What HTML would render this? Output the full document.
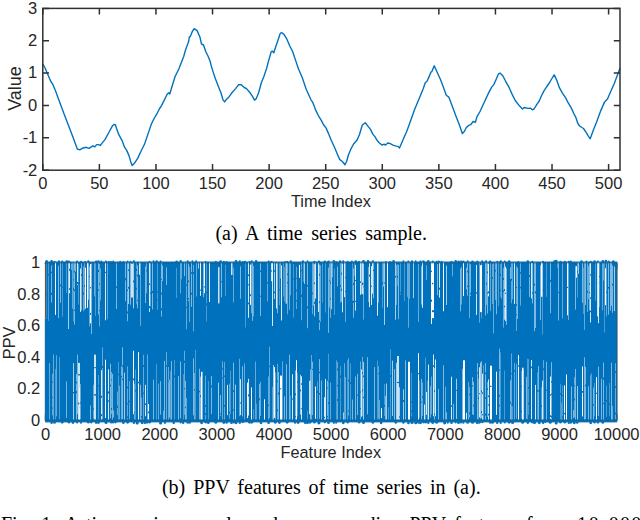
<!DOCTYPE html>
<html><head><meta charset="utf-8"><style>
html,body{margin:0;padding:0;background:#fff;width:640px;height:520px;overflow:hidden}
svg{position:absolute;left:0;top:0}
text{-webkit-font-smoothing:antialiased}
.tk{font-family:"Liberation Sans",sans-serif;font-size:16.5px;fill:#262626}
.lb{font-family:"Liberation Sans",sans-serif;font-size:16.3px;fill:#262626}
.cap{font-family:"Liberation Serif",serif;font-size:20px;fill:#000;word-spacing:3.6px}
</style></head><body>
<svg width="640" height="520" viewBox="0 0 640 520">
<path d="M42.9,64.2 L44.8,67.5 L47.7,74.2 L50.6,81.0 L52.5,83.8 L55.4,90.6 L58.6,99.2 L63.6,112.7 L68.8,126.2 L73.2,137.7 L77.3,149.0 L79.8,149.8 L82.3,148.3 L86.2,147.3 L89.0,148.3 L92.9,145.8 L94.8,146.9 L96.7,144.6 L98.5,144.6 L100.2,145.5 L101.9,143.4 L103.7,141.1 L105.4,138.8 L108.8,132.5 L112.3,126.1 L114.0,124.4 L115.5,125.0 L116.9,129.6 L118.6,134.2 L122.1,140.6 L124.4,146.9 L126.7,150.4 L129.0,155.6 L130.8,161.9 L132.1,165.6 L134.2,163.6 L137.7,158.4 L141.1,151.0 L144.6,144.0 L148.1,133.6 L151.5,123.8 L153.8,119.0 L156.7,114.2 L159.6,108.5 L161.5,105.6 L167.3,94.0 L168.8,92.7 L169.8,94.0 L172.1,86.3 L175.0,76.7 L178.8,69.0 L183.7,56.5 L185.6,49.8 L188.5,42.1 L189.4,36.9 L190.4,36.3 L192.3,31.5 L194.2,28.7 L197.1,30.6 L200.0,37.3 L201.5,44.0 L203.5,45.0 L205.8,51.7 L207.9,55.8 L210.2,61.5 L211.3,66.1 L213.1,71.9 L215.4,78.8 L218.3,86.3 L221.1,93.3 L222.9,99.6 L224.6,101.9 L226.3,99.6 L229.2,96.7 L231.5,93.3 L235.6,88.6 L238.4,84.8 L241.3,84.8 L244.2,87.5 L246.5,88.6 L250.0,92.7 L252.3,96.1 L254.6,100.2 L256.3,98.5 L258.6,92.7 L261.5,82.3 L263.8,76.7 L266.7,68.1 L268.7,60.4 L271.2,51.7 L272.5,51.2 L273.8,52.7 L276.3,45.0 L278.3,39.2 L280.2,33.5 L281.5,32.5 L284.0,34.4 L286.9,39.2 L289.8,46.0 L292.7,51.7 L295.6,60.4 L298.5,69.0 L302.3,77.7 L306.2,89.2 L311.0,99.8 L312.9,102.7 L315.8,110.4 L318.5,115.8 L321.3,120.4 L323.7,125.0 L326.0,127.9 L328.3,133.1 L331.1,140.0 L334.6,147.5 L337.5,154.4 L339.8,159.6 L342.1,161.3 L345.0,164.8 L346.7,161.3 L348.4,155.0 L350.8,149.2 L353.6,144.0 L357.1,140.0 L359.4,134.8 L362.3,125.0 L365.2,122.7 L367.5,125.6 L370.5,129.4 L372.8,134.1 L374.7,136.4 L377.0,140.2 L379.4,143.0 L382.2,145.1 L384.1,144.2 L385.5,145.1 L387.8,143.0 L389.7,143.4 L393.0,145.1 L396.2,146.1 L398.1,146.4 L399.5,148.1 L400.9,144.8 L403.7,138.3 L406.6,131.7 L409.8,123.1 L414.6,109.6 L419.4,98.1 L423.3,88.5 L425.2,82.7 L427.1,81.2 L429.0,76.9 L431.0,72.1 L431.9,71.5 L434.2,65.8 L436.7,71.2 L440.6,79.8 L443.5,87.5 L446.3,95.2 L448.8,97.1 L452.1,105.8 L456.0,116.3 L459.8,126.0 L462.3,133.5 L464.3,131.5 L466.2,127.7 L468.5,125.4 L470.8,124.6 L473.1,121.5 L475.4,122.3 L476.9,116.9 L480.0,111.5 L484.6,101.5 L488.5,93.1 L491.5,87.4 L493.8,84.6 L496.2,79.2 L498.5,73.8 L500.0,73.1 L503.1,76.2 L505.4,80.8 L509.2,87.7 L512.3,94.6 L515.4,100.8 L519.6,106.1 L522.5,109.0 L524.2,107.5 L527.7,108.4 L530.6,108.2 L532.3,109.8 L534.0,109.0 L536.9,104.4 L539.2,101.0 L541.5,95.8 L543.8,91.1 L546.1,87.7 L549.6,82.5 L551.9,78.5 L554.2,74.8 L556.5,79.6 L559.4,87.7 L562.3,92.9 L565.8,98.1 L568.1,102.7 L571.5,108.4 L573.8,113.5 L575.8,117.3 L577.7,123.1 L579.6,126.0 L583.5,128.5 L586.3,132.7 L588.3,136.2 L590.2,138.8 L593.1,130.8 L596.9,121.2 L600.8,110.6 L604.6,101.9 L607.5,99.0 L610.4,92.3 L614.2,83.7 L619.6,69.2 L620.2,68.0" fill="none" stroke="#0072bd" stroke-width="1.4" stroke-linejoin="round"/>
<rect x="42.8" y="8.4" width="577.2" height="161.79999999999998" fill="none" stroke="#303030" stroke-width="1.5"/>
<text x="42.80" y="188.8" text-anchor="middle" class="tk">0</text>
<text x="99.38" y="188.8" text-anchor="middle" class="tk">50</text>
<text x="155.96" y="188.8" text-anchor="middle" class="tk">100</text>
<text x="212.54" y="188.8" text-anchor="middle" class="tk">150</text>
<text x="269.12" y="188.8" text-anchor="middle" class="tk">200</text>
<text x="325.70" y="188.8" text-anchor="middle" class="tk">250</text>
<text x="382.28" y="188.8" text-anchor="middle" class="tk">300</text>
<text x="438.86" y="188.8" text-anchor="middle" class="tk">350</text>
<text x="495.44" y="188.8" text-anchor="middle" class="tk">400</text>
<text x="552.02" y="188.8" text-anchor="middle" class="tk">450</text>
<text x="608.60" y="188.8" text-anchor="middle" class="tk">500</text>
<text x="37.3" y="175.50" text-anchor="end" class="tk">-2</text>
<text x="37.3" y="143.14" text-anchor="end" class="tk">-1</text>
<text x="37.3" y="110.78" text-anchor="end" class="tk">0</text>
<text x="37.3" y="78.42" text-anchor="end" class="tk">1</text>
<text x="37.3" y="46.06" text-anchor="end" class="tk">2</text>
<text x="37.3" y="13.70" text-anchor="end" class="tk">3</text>
<path d="M42.80,170.2 V164.0 M42.80,8.4 V14.600000000000001 M99.38,170.2 V164.0 M99.38,8.4 V14.600000000000001 M155.96,170.2 V164.0 M155.96,8.4 V14.600000000000001 M212.54,170.2 V164.0 M212.54,8.4 V14.600000000000001 M269.12,170.2 V164.0 M269.12,8.4 V14.600000000000001 M325.70,170.2 V164.0 M325.70,8.4 V14.600000000000001 M382.28,170.2 V164.0 M382.28,8.4 V14.600000000000001 M438.86,170.2 V164.0 M438.86,8.4 V14.600000000000001 M495.44,170.2 V164.0 M495.44,8.4 V14.600000000000001 M552.02,170.2 V164.0 M552.02,8.4 V14.600000000000001 M608.60,170.2 V164.0 M608.60,8.4 V14.600000000000001 M42.8,170.20 H49.0 M620.0,170.20 H613.8 M42.8,137.84 H49.0 M620.0,137.84 H613.8 M42.8,105.48 H49.0 M620.0,105.48 H613.8 M42.8,73.12 H49.0 M620.0,73.12 H613.8 M42.8,40.76 H49.0 M620.0,40.76 H613.8 M42.8,8.40 H49.0 M620.0,8.40 H613.8" stroke="#303030" stroke-width="1.5" fill="none"/>
<text x="330.9" y="206.7" text-anchor="middle" class="lb">Time Index</text>
<text transform="translate(21.3,88.5) rotate(-90)" text-anchor="middle" class="lb" style="font-size:18px">Value</text>
<rect x="45.6" y="263.1" width="571.0" height="157.09999999999997" fill="none" stroke="#303030" stroke-width="1.5"/>
<text x="45.60" y="439.6" text-anchor="middle" class="tk">0</text>
<text x="102.70" y="439.6" text-anchor="middle" class="tk">1000</text>
<text x="159.80" y="439.6" text-anchor="middle" class="tk">2000</text>
<text x="216.90" y="439.6" text-anchor="middle" class="tk">3000</text>
<text x="274.00" y="439.6" text-anchor="middle" class="tk">4000</text>
<text x="331.10" y="439.6" text-anchor="middle" class="tk">5000</text>
<text x="388.20" y="439.6" text-anchor="middle" class="tk">6000</text>
<text x="445.30" y="439.6" text-anchor="middle" class="tk">7000</text>
<text x="502.40" y="439.6" text-anchor="middle" class="tk">8000</text>
<text x="559.50" y="439.6" text-anchor="middle" class="tk">9000</text>
<text x="616.60" y="439.6" text-anchor="middle" class="tk">10000</text>
<text x="40.3" y="425.50" text-anchor="end" class="tk">0</text>
<text x="40.3" y="394.08" text-anchor="end" class="tk">0.2</text>
<text x="40.3" y="362.66" text-anchor="end" class="tk">0.4</text>
<text x="40.3" y="331.24" text-anchor="end" class="tk">0.6</text>
<text x="40.3" y="299.82" text-anchor="end" class="tk">0.8</text>
<text x="40.3" y="268.40" text-anchor="end" class="tk">1</text>
<path d="M45.60,420.2 V414.0 M45.60,263.1 V269.3 M102.70,420.2 V414.0 M102.70,263.1 V269.3 M159.80,420.2 V414.0 M159.80,263.1 V269.3 M216.90,420.2 V414.0 M216.90,263.1 V269.3 M274.00,420.2 V414.0 M274.00,263.1 V269.3 M331.10,420.2 V414.0 M331.10,263.1 V269.3 M388.20,420.2 V414.0 M388.20,263.1 V269.3 M445.30,420.2 V414.0 M445.30,263.1 V269.3 M502.40,420.2 V414.0 M502.40,263.1 V269.3 M559.50,420.2 V414.0 M559.50,263.1 V269.3 M616.60,420.2 V414.0 M616.60,263.1 V269.3 M45.6,420.20 H51.800000000000004 M616.6,420.20 H610.4 M45.6,388.78 H51.800000000000004 M616.6,388.78 H610.4 M45.6,357.36 H51.800000000000004 M616.6,357.36 H610.4 M45.6,325.94 H51.800000000000004 M616.6,325.94 H610.4 M45.6,294.52 H51.800000000000004 M616.6,294.52 H610.4 M45.6,263.10 H51.800000000000004 M616.6,263.10 H610.4" stroke="#303030" stroke-width="1.5" fill="none"/>
<rect x="45.0" y="261.5" width="572.2" height="160.89999999999998" fill="#0072bd"/>
<g fill="#fff"><rect x="48.0" y="262.7" width="0.5" height="11.2" fill-opacity="0.6"/><rect x="48.0" y="275.3" width="0.5" height="45.6" fill-opacity="0.6"/><rect x="49.5" y="363.1" width="0.5" height="56.5" fill-opacity="0.8"/><rect x="51.0" y="265.6" width="0.5" height="6.1" fill-opacity="1"/><rect x="51.0" y="273.2" width="0.5" height="19.6" fill-opacity="1"/><rect x="51.0" y="294.9" width="0.5" height="7.6" fill-opacity="1"/><rect x="52.0" y="373.8" width="1.0" height="7.6" fill-opacity="0.4"/><rect x="52.0" y="382.7" width="1.0" height="14.2" fill-opacity="0.4"/><rect x="52.0" y="397.9" width="1.0" height="9.6" fill-opacity="0.4"/><rect x="52.0" y="408.7" width="1.0" height="6.6" fill-opacity="0.4"/><rect x="53.0" y="354.4" width="0.5" height="65.2" fill-opacity="0.8"/><rect x="55.0" y="262.7" width="1.0" height="52.2" fill-opacity="1"/><rect x="55.5" y="368.9" width="0.5" height="50.7" fill-opacity="0.6"/><rect x="56.5" y="355.3" width="0.5" height="61.0" fill-opacity="0.8"/><rect x="58.5" y="265.8" width="0.5" height="52.2" fill-opacity="1"/><rect x="59.5" y="357.0" width="0.5" height="62.6" fill-opacity="0.6"/><rect x="60.0" y="262.7" width="0.5" height="21.7" fill-opacity="1"/><rect x="60.0" y="286.3" width="0.5" height="16.5" fill-opacity="1"/><rect x="62.5" y="262.7" width="0.5" height="23.8" fill-opacity="0.6"/><rect x="62.5" y="287.6" width="0.5" height="29.1" fill-opacity="0.6"/><rect x="66.0" y="262.7" width="0.5" height="30.4" fill-opacity="0.6"/><rect x="66.0" y="381.5" width="0.5" height="36.3" fill-opacity="1"/><rect x="68.0" y="262.7" width="1.0" height="66.3" fill-opacity="0.65"/><rect x="69.0" y="262.7" width="1.0" height="6.1" fill-opacity="0.85"/><rect x="69.0" y="270.8" width="1.0" height="17.4" fill-opacity="0.85"/><rect x="69.0" y="290.0" width="1.0" height="3.3" fill-opacity="0.85"/><rect x="71.0" y="263.3" width="1.0" height="6.7" fill-opacity="0.4"/><rect x="71.0" y="272.0" width="1.0" height="0.1" fill-opacity="0.4"/><rect x="72.0" y="262.7" width="0.5" height="46.0" fill-opacity="0.8"/><rect x="73.5" y="262.7" width="0.5" height="16.6" fill-opacity="0.6"/><rect x="73.5" y="280.4" width="0.5" height="7.8" fill-opacity="0.6"/><rect x="73.5" y="290.0" width="0.5" height="31.2" fill-opacity="0.6"/><rect x="73.0" y="363.1" width="1.0" height="28.9" fill-opacity="0.65"/><rect x="73.0" y="393.5" width="1.0" height="26.1" fill-opacity="0.65"/><rect x="74.0" y="262.7" width="1.0" height="8.2" fill-opacity="0.5"/><rect x="74.0" y="272.4" width="1.0" height="17.0" fill-opacity="0.5"/><rect x="74.0" y="291.2" width="1.0" height="18.4" fill-opacity="0.5"/><rect x="74.0" y="311.0" width="1.0" height="13.6" fill-opacity="0.5"/><rect x="75.0" y="262.7" width="0.5" height="9.1" fill-opacity="1"/><rect x="76.5" y="374.2" width="0.5" height="7.4" fill-opacity="1"/><rect x="76.5" y="383.4" width="0.5" height="7.7" fill-opacity="1"/><rect x="76.5" y="393.2" width="0.5" height="26.4" fill-opacity="1"/><rect x="77.0" y="262.7" width="1.0" height="19.3" fill-opacity="0.85"/><rect x="77.0" y="284.1" width="1.0" height="0.9" fill-opacity="0.85"/><rect x="77.5" y="354.6" width="0.5" height="59.5" fill-opacity="1"/><rect x="78.0" y="264.2" width="0.5" height="18.1" fill-opacity="0.6"/><rect x="78.0" y="284.5" width="0.5" height="20.1" fill-opacity="0.6"/><rect x="78.0" y="362.9" width="2.0" height="11.2" fill-opacity="0.8"/><rect x="78.0" y="375.4" width="2.0" height="27.2" fill-opacity="0.8"/><rect x="78.0" y="404.4" width="2.0" height="15.2" fill-opacity="0.8"/><rect x="79.0" y="387.9" width="1.0" height="18.1" fill-opacity="0.65"/><rect x="79.0" y="408.2" width="1.0" height="11.4" fill-opacity="0.65"/><rect x="80.0" y="268.5" width="1.0" height="43.4" fill-opacity="0.85"/><rect x="80.0" y="384.1" width="0.5" height="18.1" fill-opacity="0.8"/><rect x="80.0" y="403.4" width="0.5" height="16.2" fill-opacity="0.8"/><rect x="81.5" y="262.7" width="0.5" height="11.6" fill-opacity="1"/><rect x="81.5" y="276.0" width="0.5" height="34.3" fill-opacity="1"/><rect x="83.0" y="266.4" width="0.5" height="26.0" fill-opacity="0.8"/><rect x="83.0" y="294.5" width="0.5" height="16.7" fill-opacity="0.8"/><rect x="84.0" y="262.7" width="1.0" height="22.5" fill-opacity="0.4"/><rect x="84.0" y="287.1" width="1.0" height="22.6" fill-opacity="0.4"/><rect x="85.0" y="267.7" width="1.0" height="40.8" fill-opacity="1"/><rect x="87.0" y="262.7" width="1.0" height="45.1" fill-opacity="1"/><rect x="88.0" y="262.7" width="0.5" height="37.0" fill-opacity="1"/><rect x="89.0" y="266.5" width="0.5" height="9.5" fill-opacity="0.8"/><rect x="89.0" y="277.3" width="0.5" height="49.0" fill-opacity="0.8"/><rect x="90.0" y="264.0" width="1.0" height="23.0" fill-opacity="1"/><rect x="90.0" y="288.4" width="1.0" height="24.4" fill-opacity="1"/><rect x="90.0" y="315.0" width="1.0" height="8.2" fill-opacity="1"/><rect x="90.0" y="405.4" width="1.0" height="14.2" fill-opacity="0.5"/><rect x="91.5" y="263.2" width="0.5" height="70.8" fill-opacity="1"/><rect x="93.5" y="384.8" width="0.5" height="23.5" fill-opacity="0.8"/><rect x="93.5" y="409.8" width="0.5" height="8.9" fill-opacity="0.8"/><rect x="94.0" y="262.7" width="0.5" height="33.6" fill-opacity="0.8"/><rect x="94.0" y="354.6" width="2.0" height="12.6" fill-opacity="0.8"/><rect x="94.0" y="368.2" width="2.0" height="26.0" fill-opacity="0.8"/><rect x="94.0" y="395.6" width="2.0" height="24.0" fill-opacity="0.8"/><rect x="95.5" y="262.7" width="0.5" height="53.2" fill-opacity="0.6"/><rect x="98.0" y="262.7" width="1.0" height="7.2" fill-opacity="0.5"/><rect x="98.0" y="272.0" width="1.0" height="17.3" fill-opacity="0.5"/><rect x="98.0" y="290.7" width="1.0" height="23.7" fill-opacity="0.5"/><rect x="98.0" y="375.1" width="0.5" height="9.9" fill-opacity="0.6"/><rect x="98.0" y="386.2" width="0.5" height="33.4" fill-opacity="0.6"/><rect x="99.0" y="263.9" width="0.5" height="19.3" fill-opacity="0.8"/><rect x="99.0" y="284.6" width="0.5" height="25.4" fill-opacity="0.8"/><rect x="99.0" y="311.2" width="0.5" height="15.3" fill-opacity="0.8"/><rect x="100.0" y="268.5" width="0.5" height="31.9" fill-opacity="0.8"/><rect x="101.0" y="370.2" width="1.0" height="25.5" fill-opacity="0.85"/><rect x="101.0" y="397.9" width="1.0" height="16.2" fill-opacity="0.85"/><rect x="101.0" y="416.1" width="1.0" height="3.5" fill-opacity="0.85"/><rect x="102.0" y="347.4" width="1.0" height="18.5" fill-opacity="0.4"/><rect x="102.0" y="367.8" width="1.0" height="51.2" fill-opacity="0.4"/><rect x="105.0" y="262.7" width="1.0" height="9.1" fill-opacity="0.85"/><rect x="105.0" y="273.1" width="1.0" height="47.2" fill-opacity="0.85"/><rect x="105.0" y="359.7" width="1.0" height="58.3" fill-opacity="1"/><rect x="107.0" y="262.7" width="0.5" height="56.5" fill-opacity="0.8"/><rect x="108.0" y="369.4" width="1.0" height="22.0" fill-opacity="0.85"/><rect x="108.0" y="393.5" width="1.0" height="6.8" fill-opacity="0.85"/><rect x="108.0" y="401.7" width="1.0" height="17.9" fill-opacity="0.85"/><rect x="110.5" y="363.7" width="0.5" height="21.0" fill-opacity="1"/><rect x="110.5" y="386.4" width="0.5" height="31.9" fill-opacity="1"/><rect x="111.0" y="372.0" width="1.0" height="7.2" fill-opacity="0.4"/><rect x="111.0" y="380.3" width="1.0" height="27.6" fill-opacity="0.4"/><rect x="111.0" y="409.9" width="1.0" height="3.9" fill-opacity="0.4"/><rect x="112.5" y="373.9" width="0.5" height="45.7" fill-opacity="1"/><rect x="113.0" y="410.5" width="0.5" height="6.6" fill-opacity="1"/><rect x="116.0" y="262.7" width="1.0" height="23.7" fill-opacity="0.5"/><rect x="116.0" y="288.0" width="1.0" height="21.0" fill-opacity="0.5"/><rect x="117.5" y="391.7" width="0.5" height="14.0" fill-opacity="0.8"/><rect x="117.5" y="407.9" width="0.5" height="7.2" fill-opacity="0.8"/><rect x="118.0" y="362.1" width="0.5" height="11.6" fill-opacity="0.6"/><rect x="118.0" y="375.3" width="0.5" height="44.3" fill-opacity="0.6"/><rect x="119.0" y="385.6" width="0.5" height="34.0" fill-opacity="0.8"/><rect x="121.0" y="366.1" width="0.5" height="9.8" fill-opacity="0.8"/><rect x="121.0" y="377.4" width="0.5" height="42.2" fill-opacity="0.8"/><rect x="122.0" y="347.3" width="1.0" height="18.0" fill-opacity="0.5"/><rect x="122.0" y="367.1" width="1.0" height="11.6" fill-opacity="0.5"/><rect x="122.0" y="380.2" width="1.0" height="38.9" fill-opacity="0.5"/><rect x="124.0" y="372.6" width="1.0" height="47.0" fill-opacity="0.65"/><rect x="125.0" y="262.7" width="0.5" height="15.5" fill-opacity="1"/><rect x="125.0" y="280.4" width="0.5" height="20.7" fill-opacity="1"/><rect x="127.0" y="262.7" width="1.0" height="27.0" fill-opacity="0.5"/><rect x="127.0" y="291.0" width="1.0" height="20.4" fill-opacity="0.5"/><rect x="127.0" y="313.4" width="1.0" height="7.8" fill-opacity="0.5"/><rect x="127.0" y="366.3" width="1.0" height="20.3" fill-opacity="0.4"/><rect x="127.0" y="388.3" width="1.0" height="14.8" fill-opacity="0.4"/><rect x="127.0" y="404.3" width="1.0" height="12.1" fill-opacity="0.4"/><rect x="127.0" y="418.2" width="1.0" height="1.4" fill-opacity="0.4"/><rect x="128.0" y="262.7" width="1.0" height="6.8" fill-opacity="0.65"/><rect x="128.0" y="271.0" width="1.0" height="15.8" fill-opacity="0.65"/><rect x="128.0" y="288.8" width="1.0" height="15.1" fill-opacity="0.65"/><rect x="129.0" y="381.1" width="0.5" height="19.6" fill-opacity="0.8"/><rect x="129.0" y="402.1" width="0.5" height="17.5" fill-opacity="0.8"/><rect x="130.5" y="262.7" width="0.5" height="42.1" fill-opacity="1"/><rect x="131.0" y="263.6" width="2.0" height="33.9" fill-opacity="0.8"/><rect x="133.0" y="262.7" width="1.0" height="17.8" fill-opacity="0.65"/><rect x="133.0" y="282.4" width="1.0" height="25.9" fill-opacity="0.65"/><rect x="133.0" y="350.8" width="1.0" height="27.7" fill-opacity="1"/><rect x="133.0" y="380.3" width="1.0" height="33.8" fill-opacity="1"/><rect x="134.0" y="383.7" width="0.5" height="28.5" fill-opacity="0.8"/><rect x="134.0" y="413.4" width="0.5" height="6.2" fill-opacity="0.8"/><rect x="135.5" y="369.4" width="0.5" height="20.4" fill-opacity="0.6"/><rect x="135.5" y="391.5" width="0.5" height="28.1" fill-opacity="0.6"/><rect x="136.5" y="262.7" width="0.5" height="6.1" fill-opacity="0.6"/><rect x="136.5" y="271.0" width="0.5" height="16.7" fill-opacity="0.6"/><rect x="136.5" y="289.4" width="0.5" height="14.9" fill-opacity="0.6"/><rect x="137.0" y="265.4" width="0.5" height="9.1" fill-opacity="1"/><rect x="137.0" y="276.6" width="0.5" height="23.3" fill-opacity="1"/><rect x="137.0" y="301.0" width="0.5" height="7.3" fill-opacity="1"/><rect x="138.0" y="352.2" width="1.0" height="29.6" fill-opacity="1"/><rect x="138.0" y="383.3" width="1.0" height="36.3" fill-opacity="1"/><rect x="139.0" y="262.7" width="1.0" height="12.0" fill-opacity="0.85"/><rect x="140.0" y="262.7" width="1.0" height="63.2" fill-opacity="0.4"/><rect x="140.5" y="384.8" width="0.5" height="34.8" fill-opacity="1"/><rect x="141.0" y="397.4" width="1.0" height="18.5" fill-opacity="0.4"/><rect x="141.0" y="417.8" width="1.0" height="1.8" fill-opacity="0.4"/><rect x="143.0" y="354.8" width="0.5" height="10.2" fill-opacity="0.8"/><rect x="143.0" y="366.9" width="0.5" height="25.7" fill-opacity="0.8"/><rect x="143.0" y="393.9" width="0.5" height="25.7" fill-opacity="0.8"/><rect x="145.5" y="266.5" width="0.5" height="36.6" fill-opacity="1"/><rect x="145.0" y="384.8" width="1.0" height="18.6" fill-opacity="0.85"/><rect x="145.0" y="405.0" width="1.0" height="11.2" fill-opacity="0.85"/><rect x="146.0" y="262.7" width="0.5" height="7.5" fill-opacity="0.8"/><rect x="146.0" y="271.4" width="0.5" height="21.7" fill-opacity="0.8"/><rect x="147.0" y="354.5" width="1.0" height="65.1" fill-opacity="0.4"/><rect x="148.0" y="404.0" width="1.0" height="7.4" fill-opacity="1"/><rect x="148.0" y="413.3" width="1.0" height="6.3" fill-opacity="1"/><rect x="149.0" y="262.7" width="1.0" height="20.7" fill-opacity="0.85"/><rect x="149.0" y="285.0" width="1.0" height="21.0" fill-opacity="0.85"/><rect x="149.0" y="308.2" width="1.0" height="3.7" fill-opacity="0.85"/><rect x="150.5" y="262.7" width="0.5" height="29.9" fill-opacity="0.8"/><rect x="150.5" y="293.9" width="0.5" height="12.7" fill-opacity="0.8"/><rect x="152.5" y="262.7" width="0.5" height="28.3" fill-opacity="1"/><rect x="152.5" y="293.1" width="0.5" height="16.3" fill-opacity="1"/><rect x="153.5" y="379.8" width="0.5" height="39.8" fill-opacity="1"/><rect x="156.0" y="363.9" width="0.5" height="55.7" fill-opacity="0.6"/><rect x="157.0" y="262.9" width="0.5" height="28.3" fill-opacity="0.6"/><rect x="157.0" y="292.6" width="0.5" height="6.7" fill-opacity="0.6"/><rect x="157.0" y="300.3" width="0.5" height="9.5" fill-opacity="0.6"/><rect x="158.0" y="383.6" width="1.0" height="36.0" fill-opacity="0.4"/><rect x="160.0" y="381.2" width="0.5" height="33.4" fill-opacity="1"/><rect x="161.5" y="262.7" width="0.5" height="16.2" fill-opacity="1"/><rect x="161.5" y="279.9" width="0.5" height="12.8" fill-opacity="1"/><rect x="161.5" y="294.5" width="0.5" height="13.7" fill-opacity="1"/><rect x="161.5" y="310.4" width="0.5" height="6.1" fill-opacity="1"/><rect x="162.0" y="265.5" width="1.0" height="15.4" fill-opacity="0.5"/><rect x="163.0" y="410.6" width="0.5" height="9.0" fill-opacity="0.8"/><rect x="164.0" y="360.9" width="1.0" height="58.7" fill-opacity="0.5"/><rect x="166.0" y="267.4" width="0.5" height="17.7" fill-opacity="1"/><rect x="166.0" y="351.9" width="0.5" height="13.3" fill-opacity="0.8"/><rect x="166.0" y="366.7" width="0.5" height="52.9" fill-opacity="0.8"/><rect x="168.0" y="367.0" width="1.0" height="13.8" fill-opacity="0.4"/><rect x="168.0" y="382.0" width="1.0" height="37.6" fill-opacity="0.4"/><rect x="169.0" y="379.9" width="1.0" height="37.7" fill-opacity="0.5"/><rect x="170.0" y="371.1" width="0.5" height="48.5" fill-opacity="0.6"/><rect x="171.0" y="361.0" width="0.5" height="58.6" fill-opacity="1"/><rect x="174.5" y="359.8" width="0.5" height="15.6" fill-opacity="0.6"/><rect x="174.5" y="377.4" width="0.5" height="42.2" fill-opacity="0.6"/><rect x="176.5" y="267.8" width="0.5" height="30.2" fill-opacity="0.6"/><rect x="178.0" y="376.0" width="0.5" height="43.6" fill-opacity="1"/><rect x="180.0" y="262.7" width="0.5" height="30.6" fill-opacity="0.8"/><rect x="180.0" y="361.5" width="1.0" height="56.8" fill-opacity="0.5"/><rect x="181.5" y="262.7" width="0.5" height="16.5" fill-opacity="0.8"/><rect x="183.5" y="374.2" width="0.5" height="45.4" fill-opacity="0.6"/><rect x="184.5" y="262.7" width="0.5" height="13.4" fill-opacity="1"/><rect x="184.5" y="350.8" width="0.5" height="9.9" fill-opacity="0.8"/><rect x="184.5" y="362.9" width="0.5" height="25.2" fill-opacity="0.8"/><rect x="184.5" y="389.3" width="0.5" height="25.5" fill-opacity="0.8"/><rect x="185.0" y="380.8" width="1.0" height="26.0" fill-opacity="0.5"/><rect x="185.0" y="408.2" width="1.0" height="11.4" fill-opacity="0.5"/><rect x="186.5" y="262.7" width="0.5" height="21.7" fill-opacity="0.8"/><rect x="186.5" y="285.8" width="0.5" height="21.0" fill-opacity="0.8"/><rect x="186.5" y="307.9" width="0.5" height="21.4" fill-opacity="0.8"/><rect x="186.0" y="398.0" width="0.5" height="21.6" fill-opacity="0.8"/><rect x="188.0" y="263.6" width="0.5" height="16.8" fill-opacity="1"/><rect x="188.0" y="282.3" width="0.5" height="15.7" fill-opacity="1"/><rect x="188.0" y="299.6" width="0.5" height="1.4" fill-opacity="1"/><rect x="189.0" y="266.9" width="1.0" height="55.2" fill-opacity="0.4"/><rect x="191.5" y="262.7" width="0.5" height="9.5" fill-opacity="1"/><rect x="191.5" y="273.8" width="0.5" height="18.9" fill-opacity="1"/><rect x="191.5" y="294.7" width="0.5" height="12.2" fill-opacity="1"/><rect x="193.0" y="264.9" width="0.5" height="7.1" fill-opacity="0.8"/><rect x="193.0" y="273.8" width="0.5" height="57.5" fill-opacity="0.8"/><rect x="193.0" y="358.4" width="1.0" height="56.9" fill-opacity="0.5"/><rect x="194.5" y="373.0" width="0.5" height="16.1" fill-opacity="0.8"/><rect x="194.5" y="390.8" width="0.5" height="28.8" fill-opacity="0.8"/><rect x="195.0" y="349.8" width="0.5" height="69.8" fill-opacity="0.6"/><rect x="196.0" y="262.7" width="0.5" height="33.8" fill-opacity="0.8"/><rect x="198.0" y="262.7" width="1.0" height="5.9" fill-opacity="0.65"/><rect x="199.0" y="368.7" width="0.5" height="22.0" fill-opacity="1"/><rect x="199.0" y="392.3" width="0.5" height="27.3" fill-opacity="1"/><rect x="200.0" y="262.7" width="1.0" height="26.9" fill-opacity="1"/><rect x="200.0" y="290.8" width="1.0" height="4.9" fill-opacity="1"/><rect x="200.0" y="376.7" width="0.5" height="18.5" fill-opacity="1"/><rect x="200.0" y="397.2" width="0.5" height="22.4" fill-opacity="1"/><rect x="201.0" y="371.8" width="1.5" height="47.8" fill-opacity="1"/><rect x="203.0" y="262.7" width="1.0" height="34.6" fill-opacity="0.5"/><rect x="204.0" y="262.7" width="1.0" height="23.6" fill-opacity="1"/><rect x="204.0" y="287.5" width="1.0" height="5.7" fill-opacity="1"/><rect x="205.0" y="375.8" width="1.0" height="29.1" fill-opacity="0.4"/><rect x="205.0" y="406.8" width="1.0" height="6.4" fill-opacity="0.4"/><rect x="205.0" y="414.9" width="1.0" height="4.7" fill-opacity="0.4"/><rect x="206.0" y="262.7" width="0.5" height="28.8" fill-opacity="0.6"/><rect x="206.0" y="293.3" width="0.5" height="10.0" fill-opacity="0.6"/><rect x="206.0" y="305.5" width="0.5" height="15.9" fill-opacity="0.6"/><rect x="208.5" y="381.2" width="0.5" height="38.4" fill-opacity="0.6"/><rect x="209.0" y="262.7" width="1.0" height="39.3" fill-opacity="0.85"/><rect x="211.0" y="376.0" width="0.5" height="9.4" fill-opacity="1"/><rect x="211.0" y="387.5" width="0.5" height="26.6" fill-opacity="1"/><rect x="218.0" y="267.2" width="1.5" height="36.2" fill-opacity="0.8"/><rect x="218.0" y="382.6" width="1.0" height="37.0" fill-opacity="0.65"/><rect x="220.5" y="395.0" width="0.5" height="18.4" fill-opacity="1"/><rect x="220.5" y="414.6" width="0.5" height="1.5" fill-opacity="1"/><rect x="221.0" y="262.7" width="1.0" height="18.5" fill-opacity="0.5"/><rect x="221.0" y="282.2" width="1.0" height="15.2" fill-opacity="0.5"/><rect x="222.0" y="361.2" width="0.5" height="6.9" fill-opacity="0.8"/><rect x="222.0" y="369.4" width="0.5" height="8.0" fill-opacity="0.8"/><rect x="222.0" y="378.4" width="0.5" height="41.2" fill-opacity="0.8"/><rect x="224.0" y="361.9" width="1.0" height="13.6" fill-opacity="0.4"/><rect x="224.0" y="376.9" width="1.0" height="28.1" fill-opacity="0.4"/><rect x="224.0" y="406.6" width="1.0" height="13.0" fill-opacity="0.4"/><rect x="225.0" y="264.8" width="0.5" height="31.2" fill-opacity="0.6"/><rect x="227.0" y="384.9" width="1.0" height="30.2" fill-opacity="0.85"/><rect x="229.0" y="383.7" width="0.5" height="27.9" fill-opacity="0.8"/><rect x="229.0" y="413.5" width="0.5" height="5.2" fill-opacity="0.8"/><rect x="230.0" y="370.6" width="0.5" height="43.4" fill-opacity="0.6"/><rect x="231.0" y="262.7" width="1.5" height="12.3" fill-opacity="0.8"/><rect x="233.5" y="267.7" width="0.5" height="34.7" fill-opacity="0.8"/><rect x="233.0" y="362.7" width="1.0" height="27.5" fill-opacity="0.5"/><rect x="233.0" y="391.9" width="1.0" height="17.5" fill-opacity="0.5"/><rect x="233.0" y="410.7" width="1.0" height="8.9" fill-opacity="0.5"/><rect x="235.0" y="384.7" width="1.0" height="34.9" fill-opacity="0.65"/><rect x="239.0" y="358.8" width="0.5" height="57.4" fill-opacity="0.8"/><rect x="240.5" y="266.4" width="0.5" height="32.4" fill-opacity="1"/><rect x="240.0" y="379.1" width="1.0" height="23.3" fill-opacity="0.85"/><rect x="240.0" y="403.5" width="1.0" height="11.7" fill-opacity="0.85"/><rect x="242.0" y="366.3" width="1.0" height="50.0" fill-opacity="0.5"/><rect x="244.0" y="363.4" width="0.5" height="56.2" fill-opacity="0.8"/><rect x="245.5" y="262.7" width="0.5" height="64.8" fill-opacity="0.6"/><rect x="247.0" y="382.6" width="1.0" height="35.5" fill-opacity="1"/><rect x="248.0" y="262.7" width="1.0" height="11.7" fill-opacity="0.85"/><rect x="248.0" y="276.0" width="1.0" height="8.3" fill-opacity="0.85"/><rect x="248.0" y="285.4" width="1.0" height="17.2" fill-opacity="0.85"/><rect x="248.0" y="304.3" width="1.0" height="13.5" fill-opacity="0.85"/><rect x="248.0" y="378.8" width="1.0" height="15.5" fill-opacity="0.85"/><rect x="248.0" y="396.4" width="1.0" height="19.2" fill-opacity="0.85"/><rect x="250.0" y="264.7" width="1.0" height="29.5" fill-opacity="1"/><rect x="250.0" y="296.2" width="1.0" height="8.6" fill-opacity="1"/><rect x="251.0" y="262.7" width="1.0" height="50.4" fill-opacity="0.4"/><rect x="251.0" y="387.5" width="1.0" height="32.1" fill-opacity="1"/><rect x="252.0" y="262.7" width="1.0" height="58.1" fill-opacity="0.5"/><rect x="253.0" y="266.0" width="1.0" height="50.4" fill-opacity="0.4"/><rect x="253.5" y="409.2" width="0.5" height="9.7" fill-opacity="0.6"/><rect x="255.0" y="361.6" width="0.5" height="58.0" fill-opacity="0.8"/><rect x="256.0" y="403.7" width="0.5" height="15.9" fill-opacity="0.6"/><rect x="259.5" y="383.9" width="0.5" height="14.5" fill-opacity="1"/><rect x="259.5" y="400.4" width="0.5" height="19.2" fill-opacity="1"/><rect x="260.5" y="263.1" width="0.5" height="7.5" fill-opacity="1"/><rect x="260.5" y="272.1" width="0.5" height="23.6" fill-opacity="1"/><rect x="260.5" y="296.8" width="0.5" height="19.4" fill-opacity="1"/><rect x="260.5" y="381.7" width="0.5" height="34.2" fill-opacity="0.8"/><rect x="264.0" y="399.3" width="1.0" height="20.3" fill-opacity="1"/><rect x="267.5" y="262.7" width="0.5" height="19.3" fill-opacity="0.8"/><rect x="267.5" y="283.5" width="0.5" height="17.9" fill-opacity="0.8"/><rect x="268.0" y="376.5" width="0.5" height="28.1" fill-opacity="0.8"/><rect x="268.0" y="406.0" width="0.5" height="13.6" fill-opacity="0.8"/><rect x="269.5" y="346.8" width="0.5" height="18.9" fill-opacity="0.8"/><rect x="269.5" y="367.1" width="0.5" height="51.0" fill-opacity="0.8"/><rect x="271.0" y="262.7" width="2.0" height="7.6" fill-opacity="0.8"/><rect x="271.0" y="271.6" width="2.0" height="9.6" fill-opacity="0.8"/><rect x="272.0" y="262.7" width="1.0" height="63.3" fill-opacity="0.85"/><rect x="272.5" y="386.8" width="0.5" height="32.8" fill-opacity="0.6"/><rect x="273.0" y="365.0" width="1.0" height="54.6" fill-opacity="0.65"/><rect x="274.0" y="262.7" width="1.0" height="7.4" fill-opacity="0.65"/><rect x="274.0" y="271.8" width="1.0" height="19.7" fill-opacity="0.65"/><rect x="274.0" y="293.3" width="1.0" height="5.7" fill-opacity="0.65"/><rect x="274.0" y="367.1" width="1.0" height="50.7" fill-opacity="1"/><rect x="275.0" y="372.6" width="0.5" height="47.0" fill-opacity="0.8"/><rect x="276.0" y="263.2" width="1.0" height="45.3" fill-opacity="0.85"/><rect x="277.0" y="262.7" width="0.5" height="50.5" fill-opacity="1"/><rect x="277.0" y="363.8" width="0.5" height="16.8" fill-opacity="0.8"/><rect x="277.0" y="382.1" width="0.5" height="27.4" fill-opacity="0.8"/><rect x="277.0" y="411.2" width="0.5" height="8.4" fill-opacity="0.8"/><rect x="278.5" y="372.0" width="0.5" height="20.5" fill-opacity="1"/><rect x="278.5" y="394.6" width="0.5" height="25.0" fill-opacity="1"/><rect x="279.5" y="262.7" width="0.5" height="26.8" fill-opacity="0.6"/><rect x="279.5" y="290.6" width="0.5" height="14.5" fill-opacity="0.6"/><rect x="280.5" y="262.7" width="0.5" height="15.7" fill-opacity="0.8"/><rect x="280.0" y="375.6" width="2.0" height="12.7" fill-opacity="1"/><rect x="280.0" y="389.3" width="2.0" height="30.3" fill-opacity="1"/><rect x="281.0" y="265.4" width="1.0" height="55.1" fill-opacity="0.85"/><rect x="281.0" y="377.4" width="1.0" height="42.2" fill-opacity="0.65"/><rect x="282.5" y="361.3" width="0.5" height="58.3" fill-opacity="0.8"/><rect x="283.0" y="262.7" width="0.5" height="33.8" fill-opacity="0.6"/><rect x="284.0" y="267.0" width="0.5" height="34.4" fill-opacity="0.6"/><rect x="284.5" y="396.3" width="0.5" height="23.2" fill-opacity="1"/><rect x="285.5" y="262.7" width="0.5" height="40.7" fill-opacity="0.6"/><rect x="286.0" y="262.7" width="1.0" height="41.0" fill-opacity="0.65"/><rect x="286.0" y="364.2" width="1.0" height="55.4" fill-opacity="0.5"/><rect x="287.0" y="262.9" width="1.0" height="10.8" fill-opacity="0.4"/><rect x="287.0" y="275.1" width="1.0" height="6.9" fill-opacity="0.4"/><rect x="287.0" y="283.4" width="1.0" height="30.9" fill-opacity="0.4"/><rect x="289.0" y="262.7" width="0.5" height="47.3" fill-opacity="0.8"/><rect x="289.0" y="354.7" width="0.5" height="64.9" fill-opacity="1"/><rect x="290.5" y="262.7" width="0.5" height="32.6" fill-opacity="0.8"/><rect x="290.5" y="395.7" width="0.5" height="23.9" fill-opacity="0.6"/><rect x="292.0" y="374.2" width="1.0" height="24.3" fill-opacity="0.85"/><rect x="292.0" y="399.6" width="1.0" height="20.0" fill-opacity="0.85"/><rect x="293.0" y="264.3" width="0.5" height="14.3" fill-opacity="0.6"/><rect x="293.0" y="279.7" width="0.5" height="38.0" fill-opacity="0.6"/><rect x="295.0" y="370.4" width="1.0" height="23.0" fill-opacity="0.5"/><rect x="295.0" y="395.1" width="1.0" height="21.1" fill-opacity="0.5"/><rect x="295.0" y="417.3" width="1.0" height="2.3" fill-opacity="0.5"/><rect x="296.0" y="266.8" width="0.5" height="11.0" fill-opacity="0.8"/><rect x="296.0" y="278.9" width="0.5" height="10.7" fill-opacity="0.8"/><rect x="296.0" y="291.4" width="0.5" height="8.7" fill-opacity="0.8"/><rect x="296.0" y="301.5" width="0.5" height="7.5" fill-opacity="0.8"/><rect x="296.0" y="360.2" width="1.0" height="59.4" fill-opacity="1"/><rect x="297.0" y="373.3" width="0.5" height="8.2" fill-opacity="0.6"/><rect x="297.0" y="382.8" width="0.5" height="33.5" fill-opacity="0.6"/><rect x="299.0" y="264.9" width="1.0" height="12.9" fill-opacity="1"/><rect x="300.0" y="374.8" width="1.0" height="14.8" fill-opacity="0.65"/><rect x="300.0" y="391.4" width="1.0" height="23.3" fill-opacity="0.65"/><rect x="301.0" y="262.7" width="1.0" height="7.2" fill-opacity="0.4"/><rect x="301.0" y="271.2" width="1.0" height="23.5" fill-opacity="0.4"/><rect x="301.0" y="296.9" width="1.0" height="23.4" fill-opacity="0.4"/><rect x="301.0" y="376.3" width="1.0" height="7.0" fill-opacity="0.85"/><rect x="301.0" y="384.8" width="1.0" height="23.4" fill-opacity="0.85"/><rect x="301.0" y="409.1" width="1.0" height="10.5" fill-opacity="0.85"/><rect x="303.0" y="262.7" width="0.5" height="19.2" fill-opacity="0.6"/><rect x="304.0" y="262.7" width="1.0" height="21.1" fill-opacity="0.65"/><rect x="307.0" y="262.7" width="1.0" height="22.2" fill-opacity="0.5"/><rect x="307.0" y="286.7" width="1.0" height="19.7" fill-opacity="0.5"/><rect x="307.0" y="308.5" width="1.0" height="19.7" fill-opacity="0.5"/><rect x="307.5" y="410.8" width="0.5" height="8.8" fill-opacity="0.6"/><rect x="309.0" y="380.8" width="1.5" height="33.4" fill-opacity="0.8"/><rect x="310.0" y="369.5" width="0.5" height="50.1" fill-opacity="1"/><rect x="311.0" y="355.0" width="1.0" height="64.6" fill-opacity="0.4"/><rect x="312.0" y="262.7" width="1.0" height="29.8" fill-opacity="0.4"/><rect x="312.0" y="294.3" width="1.0" height="19.8" fill-opacity="0.4"/><rect x="312.0" y="361.7" width="0.5" height="7.1" fill-opacity="1"/><rect x="312.0" y="369.9" width="0.5" height="45.1" fill-opacity="1"/><rect x="313.0" y="262.7" width="0.5" height="42.8" fill-opacity="1"/><rect x="314.0" y="264.2" width="1.0" height="18.3" fill-opacity="0.65"/><rect x="314.0" y="284.2" width="1.0" height="17.7" fill-opacity="0.65"/><rect x="314.0" y="303.9" width="1.0" height="12.4" fill-opacity="0.65"/><rect x="315.0" y="262.7" width="1.0" height="35.8" fill-opacity="0.85"/><rect x="315.0" y="386.5" width="1.0" height="32.2" fill-opacity="1"/><rect x="317.0" y="381.5" width="0.5" height="9.6" fill-opacity="0.6"/><rect x="317.0" y="392.8" width="0.5" height="26.8" fill-opacity="0.6"/><rect x="318.0" y="262.7" width="1.0" height="49.3" fill-opacity="0.85"/><rect x="319.0" y="264.7" width="0.5" height="9.1" fill-opacity="1"/><rect x="319.0" y="275.6" width="0.5" height="25.7" fill-opacity="1"/><rect x="319.0" y="303.1" width="0.5" height="17.2" fill-opacity="1"/><rect x="319.0" y="322.5" width="0.5" height="7.6" fill-opacity="1"/><rect x="319.0" y="359.1" width="0.5" height="12.6" fill-opacity="1"/><rect x="319.0" y="373.3" width="0.5" height="19.7" fill-opacity="1"/><rect x="319.0" y="394.6" width="0.5" height="24.1" fill-opacity="1"/><rect x="320.0" y="265.3" width="1.0" height="56.6" fill-opacity="0.4"/><rect x="321.5" y="380.5" width="0.5" height="39.1" fill-opacity="1"/><rect x="322.5" y="262.7" width="0.5" height="40.0" fill-opacity="0.6"/><rect x="324.0" y="397.2" width="1.0" height="19.6" fill-opacity="0.85"/><rect x="324.0" y="418.2" width="1.0" height="1.4" fill-opacity="0.85"/><rect x="325.0" y="262.7" width="0.5" height="49.8" fill-opacity="0.6"/><rect x="325.0" y="379.0" width="1.0" height="40.6" fill-opacity="0.85"/><rect x="327.5" y="380.9" width="0.5" height="6.5" fill-opacity="1"/><rect x="327.5" y="388.4" width="0.5" height="27.4" fill-opacity="1"/><rect x="327.5" y="417.2" width="0.5" height="1.4" fill-opacity="1"/><rect x="328.5" y="267.6" width="0.5" height="65.2" fill-opacity="1"/><rect x="328.0" y="353.7" width="0.5" height="26.8" fill-opacity="0.6"/><rect x="328.0" y="381.6" width="0.5" height="20.6" fill-opacity="0.6"/><rect x="328.0" y="404.2" width="0.5" height="15.4" fill-opacity="0.6"/><rect x="329.0" y="262.7" width="1.0" height="17.1" fill-opacity="0.4"/><rect x="329.0" y="280.8" width="1.0" height="26.7" fill-opacity="0.4"/><rect x="330.0" y="262.8" width="1.0" height="18.7" fill-opacity="0.4"/><rect x="330.0" y="283.5" width="1.0" height="14.7" fill-opacity="0.4"/><rect x="330.0" y="299.6" width="1.0" height="18.2" fill-opacity="0.4"/><rect x="330.0" y="382.7" width="1.0" height="36.9" fill-opacity="0.4"/><rect x="331.0" y="262.7" width="1.0" height="46.5" fill-opacity="0.65"/><rect x="332.5" y="262.7" width="0.5" height="14.5" fill-opacity="0.8"/><rect x="334.5" y="268.3" width="0.5" height="46.7" fill-opacity="0.6"/><rect x="336.5" y="360.1" width="0.5" height="59.5" fill-opacity="0.6"/><rect x="337.5" y="266.6" width="0.5" height="19.7" fill-opacity="1"/><rect x="337.0" y="362.0" width="0.5" height="6.5" fill-opacity="0.8"/><rect x="337.0" y="370.4" width="0.5" height="14.5" fill-opacity="0.8"/><rect x="337.0" y="386.3" width="0.5" height="12.7" fill-opacity="0.8"/><rect x="337.0" y="401.0" width="0.5" height="18.6" fill-opacity="0.8"/><rect x="340.0" y="262.7" width="0.5" height="22.4" fill-opacity="0.8"/><rect x="340.0" y="286.8" width="0.5" height="15.8" fill-opacity="0.8"/><rect x="340.0" y="366.2" width="0.5" height="9.4" fill-opacity="0.6"/><rect x="340.0" y="377.7" width="0.5" height="41.9" fill-opacity="0.6"/><rect x="341.5" y="262.7" width="0.5" height="10.0" fill-opacity="1"/><rect x="341.5" y="274.6" width="0.5" height="14.1" fill-opacity="1"/><rect x="341.5" y="290.8" width="0.5" height="11.0" fill-opacity="1"/><rect x="342.0" y="263.5" width="1.0" height="48.8" fill-opacity="0.85"/><rect x="343.0" y="412.4" width="1.0" height="7.2" fill-opacity="0.65"/><rect x="344.0" y="262.7" width="1.0" height="34.4" fill-opacity="0.85"/><rect x="344.0" y="363.3" width="0.5" height="56.3" fill-opacity="0.8"/><rect x="345.5" y="263.0" width="0.5" height="13.8" fill-opacity="0.8"/><rect x="345.5" y="277.9" width="0.5" height="12.8" fill-opacity="0.8"/><rect x="345.5" y="292.0" width="0.5" height="29.8" fill-opacity="0.8"/><rect x="345.5" y="377.0" width="0.5" height="42.6" fill-opacity="0.8"/><rect x="347.5" y="360.3" width="0.5" height="59.3" fill-opacity="0.6"/><rect x="348.0" y="358.2" width="1.0" height="21.5" fill-opacity="0.4"/><rect x="348.0" y="381.3" width="1.0" height="29.3" fill-opacity="0.4"/><rect x="348.0" y="411.7" width="1.0" height="3.8" fill-opacity="0.4"/><rect x="350.0" y="363.5" width="0.5" height="18.6" fill-opacity="0.6"/><rect x="350.0" y="383.9" width="0.5" height="35.7" fill-opacity="0.6"/><rect x="352.5" y="262.7" width="0.5" height="37.9" fill-opacity="0.6"/><rect x="352.0" y="399.5" width="0.5" height="20.1" fill-opacity="1"/><rect x="353.0" y="268.4" width="0.5" height="14.7" fill-opacity="1"/><rect x="353.0" y="285.1" width="0.5" height="15.8" fill-opacity="1"/><rect x="353.0" y="302.8" width="0.5" height="14.8" fill-opacity="1"/><rect x="354.0" y="262.7" width="0.5" height="12.9" fill-opacity="0.6"/><rect x="355.0" y="264.9" width="1.0" height="15.1" fill-opacity="0.85"/><rect x="355.0" y="281.1" width="1.0" height="19.7" fill-opacity="0.85"/><rect x="355.0" y="301.9" width="1.0" height="8.7" fill-opacity="0.85"/><rect x="355.5" y="376.5" width="0.5" height="43.1" fill-opacity="1"/><rect x="357.5" y="373.8" width="0.5" height="20.6" fill-opacity="1"/><rect x="357.5" y="395.7" width="0.5" height="19.4" fill-opacity="1"/><rect x="360.0" y="262.7" width="1.0" height="18.6" fill-opacity="0.85"/><rect x="360.0" y="282.9" width="1.0" height="11.9" fill-opacity="0.85"/><rect x="360.0" y="361.5" width="1.0" height="29.9" fill-opacity="0.4"/><rect x="360.0" y="392.6" width="1.0" height="15.5" fill-opacity="0.4"/><rect x="360.0" y="409.3" width="1.0" height="10.3" fill-opacity="0.4"/><rect x="361.5" y="262.7" width="0.5" height="31.2" fill-opacity="1"/><rect x="361.0" y="369.5" width="1.0" height="47.1" fill-opacity="0.85"/><rect x="362.0" y="262.7" width="1.5" height="20.0" fill-opacity="0.8"/><rect x="362.0" y="284.9" width="1.5" height="9.4" fill-opacity="0.8"/><rect x="362.5" y="356.9" width="0.5" height="15.2" fill-opacity="0.8"/><rect x="362.5" y="373.9" width="0.5" height="15.5" fill-opacity="0.8"/><rect x="362.5" y="391.4" width="0.5" height="24.9" fill-opacity="0.8"/><rect x="363.0" y="263.9" width="0.5" height="21.7" fill-opacity="0.8"/><rect x="363.0" y="287.7" width="0.5" height="31.9" fill-opacity="0.8"/><rect x="363.0" y="362.0" width="1.0" height="13.5" fill-opacity="0.65"/><rect x="363.0" y="377.2" width="1.0" height="19.6" fill-opacity="0.65"/><rect x="363.0" y="398.1" width="1.0" height="21.5" fill-opacity="0.65"/><rect x="367.0" y="357.2" width="1.0" height="57.1" fill-opacity="0.5"/><rect x="368.0" y="267.0" width="1.0" height="34.9" fill-opacity="0.4"/><rect x="369.0" y="263.2" width="1.0" height="11.4" fill-opacity="0.85"/><rect x="369.0" y="276.6" width="1.0" height="30.6" fill-opacity="0.85"/><rect x="371.0" y="266.2" width="1.0" height="19.5" fill-opacity="0.85"/><rect x="371.0" y="286.8" width="1.0" height="18.2" fill-opacity="0.85"/><rect x="372.0" y="262.7" width="1.0" height="31.0" fill-opacity="0.85"/><rect x="373.0" y="262.7" width="1.0" height="6.9" fill-opacity="0.5"/><rect x="373.0" y="271.1" width="1.0" height="27.2" fill-opacity="0.5"/><rect x="374.0" y="367.1" width="1.0" height="52.5" fill-opacity="0.5"/><rect x="377.0" y="262.7" width="1.0" height="53.0" fill-opacity="0.85"/><rect x="377.0" y="360.6" width="0.5" height="59.0" fill-opacity="0.6"/><rect x="378.0" y="262.7" width="0.5" height="39.9" fill-opacity="0.8"/><rect x="378.0" y="366.2" width="1.0" height="6.9" fill-opacity="0.4"/><rect x="378.0" y="374.1" width="1.0" height="44.5" fill-opacity="0.4"/><rect x="379.5" y="400.0" width="0.5" height="19.6" fill-opacity="0.8"/><rect x="381.0" y="408.2" width="1.0" height="9.8" fill-opacity="1"/><rect x="382.0" y="262.7" width="0.5" height="19.3" fill-opacity="0.6"/><rect x="382.0" y="284.2" width="0.5" height="23.7" fill-opacity="0.6"/><rect x="383.0" y="262.7" width="0.5" height="23.9" fill-opacity="1"/><rect x="384.0" y="262.7" width="1.0" height="19.7" fill-opacity="0.65"/><rect x="384.0" y="283.5" width="1.0" height="41.4" fill-opacity="0.65"/><rect x="384.0" y="384.1" width="0.5" height="20.8" fill-opacity="0.6"/><rect x="384.0" y="406.8" width="0.5" height="9.2" fill-opacity="0.6"/><rect x="385.5" y="395.8" width="0.5" height="23.8" fill-opacity="1"/><rect x="386.0" y="383.5" width="1.0" height="36.1" fill-opacity="0.65"/><rect x="387.0" y="262.7" width="1.0" height="44.4" fill-opacity="1"/><rect x="388.5" y="407.3" width="0.5" height="12.3" fill-opacity="0.6"/><rect x="390.0" y="349.2" width="0.5" height="25.8" fill-opacity="0.6"/><rect x="390.0" y="377.0" width="0.5" height="42.6" fill-opacity="0.6"/><rect x="392.0" y="360.6" width="1.0" height="55.4" fill-opacity="0.65"/><rect x="394.0" y="369.1" width="1.0" height="50.5" fill-opacity="0.5"/><rect x="395.0" y="262.7" width="1.0" height="13.2" fill-opacity="0.65"/><rect x="395.0" y="277.6" width="1.0" height="42.2" fill-opacity="0.65"/><rect x="396.5" y="264.8" width="0.5" height="40.1" fill-opacity="0.8"/><rect x="396.0" y="362.9" width="1.0" height="56.7" fill-opacity="0.65"/><rect x="397.0" y="264.3" width="0.5" height="11.4" fill-opacity="0.6"/><rect x="397.0" y="277.8" width="0.5" height="8.0" fill-opacity="0.6"/><rect x="397.0" y="356.0" width="2.0" height="25.9" fill-opacity="0.8"/><rect x="397.0" y="383.1" width="2.0" height="36.5" fill-opacity="0.8"/><rect x="398.0" y="264.8" width="0.5" height="54.3" fill-opacity="1"/><rect x="399.0" y="387.3" width="1.0" height="29.0" fill-opacity="0.65"/><rect x="399.0" y="417.7" width="1.0" height="1.9" fill-opacity="0.65"/><rect x="400.5" y="262.7" width="0.5" height="29.4" fill-opacity="0.6"/><rect x="400.5" y="293.2" width="0.5" height="1.3" fill-opacity="0.6"/><rect x="403.0" y="389.4" width="1.0" height="10.5" fill-opacity="0.65"/><rect x="403.0" y="402.0" width="1.0" height="17.6" fill-opacity="0.65"/><rect x="404.5" y="262.7" width="0.5" height="38.4" fill-opacity="0.6"/><rect x="405.0" y="360.4" width="1.0" height="59.2" fill-opacity="0.5"/><rect x="407.0" y="262.7" width="1.0" height="34.2" fill-opacity="0.4"/><rect x="408.5" y="262.7" width="0.5" height="65.0" fill-opacity="0.8"/><rect x="408.0" y="361.8" width="2.0" height="57.8" fill-opacity="1"/><rect x="409.5" y="262.7" width="0.5" height="36.1" fill-opacity="0.8"/><rect x="409.5" y="409.0" width="0.5" height="10.6" fill-opacity="0.8"/><rect x="411.5" y="372.9" width="0.5" height="28.6" fill-opacity="0.6"/><rect x="411.5" y="402.8" width="0.5" height="7.7" fill-opacity="0.6"/><rect x="411.5" y="412.1" width="0.5" height="4.3" fill-opacity="0.6"/><rect x="413.0" y="262.7" width="1.0" height="35.3" fill-opacity="0.65"/><rect x="418.0" y="264.0" width="1.0" height="57.8" fill-opacity="0.4"/><rect x="418.0" y="353.2" width="1.0" height="19.8" fill-opacity="1"/><rect x="418.0" y="374.3" width="1.0" height="45.3" fill-opacity="1"/><rect x="419.0" y="380.7" width="0.5" height="37.2" fill-opacity="0.6"/><rect x="421.0" y="266.3" width="1.0" height="38.3" fill-opacity="0.5"/><rect x="421.0" y="378.8" width="0.5" height="22.8" fill-opacity="1"/><rect x="421.0" y="402.7" width="0.5" height="16.9" fill-opacity="1"/><rect x="422.0" y="262.7" width="1.0" height="45.1" fill-opacity="0.85"/><rect x="422.0" y="382.5" width="1.0" height="13.9" fill-opacity="0.4"/><rect x="422.0" y="398.1" width="1.0" height="17.7" fill-opacity="0.4"/><rect x="424.0" y="404.5" width="1.0" height="15.1" fill-opacity="0.85"/><rect x="425.0" y="357.6" width="0.5" height="62.0" fill-opacity="0.6"/><rect x="426.5" y="265.4" width="0.5" height="14.6" fill-opacity="0.8"/><rect x="426.0" y="392.0" width="1.0" height="22.9" fill-opacity="0.85"/><rect x="427.0" y="380.7" width="0.5" height="38.9" fill-opacity="0.6"/><rect x="428.0" y="364.5" width="1.0" height="55.1" fill-opacity="0.85"/><rect x="430.0" y="386.1" width="0.5" height="31.3" fill-opacity="0.8"/><rect x="431.0" y="262.7" width="1.0" height="8.0" fill-opacity="1"/><rect x="431.0" y="272.1" width="1.0" height="27.5" fill-opacity="1"/><rect x="431.0" y="301.8" width="1.0" height="22.1" fill-opacity="1"/><rect x="431.5" y="376.6" width="0.5" height="37.6" fill-opacity="0.8"/><rect x="432.0" y="262.8" width="2.0" height="20.0" fill-opacity="1"/><rect x="432.0" y="284.3" width="2.0" height="25.9" fill-opacity="1"/><rect x="432.0" y="312.2" width="2.0" height="5.9" fill-opacity="1"/><rect x="433.0" y="262.7" width="1.0" height="46.8" fill-opacity="0.65"/><rect x="433.0" y="354.5" width="1.0" height="10.8" fill-opacity="0.85"/><rect x="433.0" y="366.9" width="1.0" height="49.2" fill-opacity="0.85"/><rect x="434.0" y="368.0" width="0.5" height="22.1" fill-opacity="1"/><rect x="434.0" y="392.0" width="0.5" height="21.6" fill-opacity="1"/><rect x="434.0" y="415.4" width="0.5" height="4.2" fill-opacity="1"/><rect x="435.0" y="359.5" width="1.0" height="56.7" fill-opacity="0.85"/><rect x="437.0" y="264.1" width="0.5" height="31.1" fill-opacity="1"/><rect x="438.0" y="389.1" width="0.5" height="30.5" fill-opacity="1"/><rect x="439.0" y="262.7" width="1.0" height="24.9" fill-opacity="0.85"/><rect x="439.0" y="289.7" width="1.0" height="7.9" fill-opacity="0.85"/><rect x="443.0" y="262.7" width="1.0" height="48.5" fill-opacity="1"/><rect x="443.0" y="365.3" width="0.5" height="54.3" fill-opacity="1"/><rect x="445.0" y="386.8" width="1.0" height="32.8" fill-opacity="0.4"/><rect x="446.0" y="265.7" width="1.0" height="39.3" fill-opacity="0.65"/><rect x="446.0" y="412.3" width="0.5" height="7.3" fill-opacity="1"/><rect x="451.0" y="376.7" width="1.0" height="28.6" fill-opacity="0.85"/><rect x="451.0" y="406.8" width="1.0" height="12.8" fill-opacity="0.85"/><rect x="452.5" y="263.7" width="0.5" height="12.6" fill-opacity="0.8"/><rect x="453.5" y="403.8" width="0.5" height="15.8" fill-opacity="1"/><rect x="456.0" y="378.8" width="1.0" height="11.1" fill-opacity="0.65"/><rect x="456.0" y="390.9" width="1.0" height="28.0" fill-opacity="0.65"/><rect x="460.5" y="268.4" width="0.5" height="42.9" fill-opacity="1"/><rect x="461.0" y="266.8" width="0.5" height="37.7" fill-opacity="0.8"/><rect x="462.0" y="368.8" width="0.5" height="50.8" fill-opacity="1"/><rect x="463.0" y="262.7" width="1.0" height="33.4" fill-opacity="1"/><rect x="463.0" y="360.3" width="2.0" height="59.3" fill-opacity="1"/><rect x="466.5" y="267.8" width="0.5" height="21.6" fill-opacity="1"/><rect x="466.0" y="412.8" width="1.0" height="6.8" fill-opacity="0.85"/><rect x="467.5" y="262.7" width="0.5" height="8.1" fill-opacity="1"/><rect x="467.5" y="272.5" width="0.5" height="13.1" fill-opacity="1"/><rect x="467.5" y="287.0" width="0.5" height="8.7" fill-opacity="1"/><rect x="468.0" y="382.1" width="0.5" height="37.5" fill-opacity="0.8"/><rect x="469.0" y="262.7" width="0.5" height="55.5" fill-opacity="0.8"/><rect x="469.5" y="387.1" width="0.5" height="6.7" fill-opacity="0.8"/><rect x="469.5" y="395.3" width="0.5" height="17.0" fill-opacity="0.8"/><rect x="469.5" y="414.2" width="0.5" height="3.1" fill-opacity="0.8"/><rect x="470.5" y="264.3" width="0.5" height="28.5" fill-opacity="1"/><rect x="470.5" y="294.4" width="0.5" height="1.7" fill-opacity="1"/><rect x="472.0" y="377.2" width="1.0" height="8.0" fill-opacity="0.5"/><rect x="472.0" y="386.5" width="1.0" height="27.9" fill-opacity="0.5"/><rect x="473.0" y="381.9" width="1.0" height="22.9" fill-opacity="0.5"/><rect x="473.0" y="406.4" width="1.0" height="8.5" fill-opacity="0.5"/><rect x="476.0" y="264.9" width="1.0" height="27.3" fill-opacity="0.85"/><rect x="476.0" y="293.6" width="1.0" height="21.3" fill-opacity="0.85"/><rect x="477.0" y="363.0" width="1.0" height="9.4" fill-opacity="0.5"/><rect x="477.0" y="373.6" width="1.0" height="45.8" fill-opacity="0.5"/><rect x="478.0" y="378.8" width="0.5" height="18.3" fill-opacity="0.6"/><rect x="478.0" y="399.2" width="0.5" height="20.4" fill-opacity="0.6"/><rect x="479.0" y="262.7" width="0.5" height="60.0" fill-opacity="0.8"/><rect x="479.0" y="367.3" width="1.0" height="25.9" fill-opacity="0.85"/><rect x="479.0" y="394.2" width="1.0" height="23.2" fill-opacity="0.85"/><rect x="480.0" y="265.2" width="2.0" height="46.9" fill-opacity="1"/><rect x="480.0" y="362.6" width="1.0" height="56.0" fill-opacity="0.65"/><rect x="481.5" y="262.7" width="0.5" height="55.8" fill-opacity="0.6"/><rect x="481.0" y="361.1" width="1.0" height="29.2" fill-opacity="0.5"/><rect x="481.0" y="392.3" width="1.0" height="18.7" fill-opacity="0.5"/><rect x="481.0" y="413.1" width="1.0" height="4.8" fill-opacity="0.5"/><rect x="482.0" y="373.7" width="1.0" height="18.5" fill-opacity="0.85"/><rect x="482.0" y="393.9" width="1.0" height="20.2" fill-opacity="0.85"/><rect x="482.0" y="415.4" width="1.0" height="4.2" fill-opacity="0.85"/><rect x="483.0" y="364.9" width="0.5" height="54.7" fill-opacity="0.6"/><rect x="485.0" y="262.7" width="1.0" height="52.8" fill-opacity="0.5"/><rect x="485.5" y="363.1" width="0.5" height="9.2" fill-opacity="1"/><rect x="485.5" y="374.2" width="0.5" height="23.0" fill-opacity="1"/><rect x="485.5" y="398.7" width="0.5" height="14.8" fill-opacity="1"/><rect x="485.5" y="415.6" width="0.5" height="4.0" fill-opacity="1"/><rect x="486.0" y="262.7" width="1.0" height="20.0" fill-opacity="0.4"/><rect x="486.0" y="284.8" width="1.0" height="20.1" fill-opacity="0.4"/><rect x="487.0" y="262.7" width="0.5" height="8.8" fill-opacity="1"/><rect x="487.0" y="273.3" width="0.5" height="19.2" fill-opacity="1"/><rect x="487.0" y="293.7" width="0.5" height="19.8" fill-opacity="1"/><rect x="487.0" y="382.0" width="0.5" height="6.4" fill-opacity="0.8"/><rect x="487.0" y="390.0" width="0.5" height="26.9" fill-opacity="0.8"/><rect x="488.0" y="263.7" width="1.0" height="27.6" fill-opacity="1"/><rect x="488.0" y="293.3" width="1.0" height="3.0" fill-opacity="1"/><rect x="488.0" y="379.5" width="1.0" height="16.0" fill-opacity="0.85"/><rect x="488.0" y="397.1" width="1.0" height="7.3" fill-opacity="0.85"/><rect x="488.0" y="405.6" width="1.0" height="8.2" fill-opacity="0.85"/><rect x="488.0" y="415.5" width="1.0" height="4.1" fill-opacity="0.85"/><rect x="490.0" y="262.7" width="0.5" height="48.2" fill-opacity="0.8"/><rect x="490.0" y="365.7" width="2.0" height="20.1" fill-opacity="1"/><rect x="490.0" y="387.0" width="2.0" height="32.6" fill-opacity="1"/><rect x="491.0" y="375.4" width="0.5" height="20.0" fill-opacity="1"/><rect x="491.0" y="396.6" width="0.5" height="23.0" fill-opacity="1"/><rect x="492.0" y="264.1" width="0.5" height="13.0" fill-opacity="0.8"/><rect x="492.0" y="278.8" width="0.5" height="25.2" fill-opacity="0.8"/><rect x="493.5" y="263.1" width="0.5" height="70.3" fill-opacity="0.8"/><rect x="495.5" y="262.7" width="0.5" height="7.2" fill-opacity="0.8"/><rect x="495.5" y="271.5" width="0.5" height="28.4" fill-opacity="0.8"/><rect x="496.5" y="262.7" width="0.5" height="51.6" fill-opacity="1"/><rect x="496.0" y="371.7" width="1.0" height="43.1" fill-opacity="1"/><rect x="498.5" y="262.7" width="0.5" height="43.4" fill-opacity="0.6"/><rect x="499.0" y="348.6" width="0.5" height="20.9" fill-opacity="1"/><rect x="499.0" y="370.8" width="0.5" height="24.0" fill-opacity="1"/><rect x="499.0" y="396.7" width="0.5" height="8.1" fill-opacity="1"/><rect x="499.0" y="406.3" width="0.5" height="13.3" fill-opacity="1"/><rect x="500.5" y="263.7" width="0.5" height="10.2" fill-opacity="0.6"/><rect x="500.5" y="275.8" width="0.5" height="14.1" fill-opacity="0.6"/><rect x="500.5" y="291.0" width="0.5" height="5.8" fill-opacity="0.6"/><rect x="500.0" y="352.4" width="0.5" height="67.2" fill-opacity="0.6"/><rect x="501.0" y="262.7" width="0.5" height="36.1" fill-opacity="0.8"/><rect x="503.0" y="267.8" width="1.0" height="10.1" fill-opacity="0.4"/><rect x="503.0" y="279.9" width="1.0" height="10.5" fill-opacity="0.4"/><rect x="503.0" y="291.9" width="1.0" height="35.7" fill-opacity="0.4"/><rect x="504.0" y="262.7" width="1.0" height="26.4" fill-opacity="0.65"/><rect x="504.0" y="291.0" width="1.0" height="14.8" fill-opacity="0.65"/><rect x="504.0" y="307.3" width="1.0" height="12.4" fill-opacity="0.65"/><rect x="504.0" y="370.5" width="0.5" height="49.1" fill-opacity="0.6"/><rect x="505.0" y="266.6" width="1.0" height="26.2" fill-opacity="0.85"/><rect x="505.0" y="293.9" width="1.0" height="27.1" fill-opacity="0.85"/><rect x="506.0" y="268.3" width="0.5" height="56.4" fill-opacity="1"/><rect x="510.0" y="267.5" width="0.5" height="11.5" fill-opacity="1"/><rect x="510.0" y="380.3" width="1.0" height="21.3" fill-opacity="0.5"/><rect x="510.0" y="403.7" width="1.0" height="15.9" fill-opacity="0.5"/><rect x="511.0" y="262.7" width="0.5" height="16.0" fill-opacity="0.8"/><rect x="511.0" y="280.8" width="0.5" height="22.5" fill-opacity="0.8"/><rect x="511.0" y="353.4" width="0.5" height="19.7" fill-opacity="0.8"/><rect x="511.0" y="374.1" width="0.5" height="30.0" fill-opacity="0.8"/><rect x="511.0" y="405.3" width="0.5" height="14.3" fill-opacity="0.8"/><rect x="512.0" y="262.7" width="1.0" height="36.6" fill-opacity="0.4"/><rect x="512.5" y="406.3" width="0.5" height="13.3" fill-opacity="0.6"/><rect x="514.0" y="262.7" width="1.0" height="41.3" fill-opacity="0.85"/><rect x="514.0" y="362.7" width="1.0" height="7.3" fill-opacity="0.4"/><rect x="514.0" y="371.6" width="1.0" height="48.0" fill-opacity="0.4"/><rect x="516.0" y="266.5" width="0.5" height="20.5" fill-opacity="0.8"/><rect x="516.0" y="288.2" width="0.5" height="16.1" fill-opacity="0.8"/><rect x="516.0" y="306.0" width="0.5" height="8.2" fill-opacity="0.8"/><rect x="516.0" y="315.2" width="0.5" height="15.8" fill-opacity="0.8"/><rect x="516.0" y="363.9" width="0.5" height="54.7" fill-opacity="0.8"/><rect x="517.0" y="267.7" width="1.0" height="51.3" fill-opacity="0.5"/><rect x="518.0" y="355.1" width="1.0" height="10.1" fill-opacity="1"/><rect x="518.0" y="366.5" width="1.0" height="53.1" fill-opacity="1"/><rect x="520.0" y="262.7" width="0.5" height="9.4" fill-opacity="0.8"/><rect x="520.0" y="273.8" width="0.5" height="13.1" fill-opacity="0.8"/><rect x="520.0" y="288.4" width="0.5" height="17.3" fill-opacity="0.8"/><rect x="521.0" y="370.8" width="0.5" height="15.2" fill-opacity="0.6"/><rect x="521.0" y="387.1" width="0.5" height="23.6" fill-opacity="0.6"/><rect x="521.0" y="412.1" width="0.5" height="6.5" fill-opacity="0.6"/><rect x="522.0" y="367.7" width="1.5" height="51.9" fill-opacity="1"/><rect x="523.0" y="370.0" width="0.5" height="49.6" fill-opacity="0.8"/><rect x="526.0" y="376.8" width="0.5" height="42.1" fill-opacity="1"/><rect x="527.5" y="358.7" width="0.5" height="60.9" fill-opacity="0.6"/><rect x="528.0" y="359.1" width="0.5" height="27.9" fill-opacity="0.6"/><rect x="528.0" y="388.6" width="0.5" height="14.0" fill-opacity="0.6"/><rect x="528.0" y="404.6" width="0.5" height="10.2" fill-opacity="0.6"/><rect x="529.0" y="262.7" width="0.5" height="12.3" fill-opacity="1"/><rect x="529.0" y="276.9" width="0.5" height="20.0" fill-opacity="1"/><rect x="531.0" y="262.7" width="1.0" height="35.8" fill-opacity="0.85"/><rect x="531.0" y="360.0" width="1.0" height="6.5" fill-opacity="0.85"/><rect x="531.0" y="368.3" width="1.0" height="50.9" fill-opacity="0.85"/><rect x="532.0" y="262.7" width="0.5" height="29.5" fill-opacity="1"/><rect x="532.0" y="293.7" width="0.5" height="9.7" fill-opacity="1"/><rect x="534.0" y="262.7" width="0.5" height="20.9" fill-opacity="1"/><rect x="534.0" y="285.7" width="0.5" height="45.5" fill-opacity="1"/><rect x="535.0" y="262.7" width="1.0" height="28.6" fill-opacity="0.5"/><rect x="535.0" y="293.4" width="1.0" height="34.5" fill-opacity="0.5"/><rect x="535.0" y="384.9" width="1.0" height="34.7" fill-opacity="0.85"/><rect x="537.5" y="372.5" width="0.5" height="17.5" fill-opacity="0.6"/><rect x="537.5" y="391.7" width="0.5" height="27.9" fill-opacity="0.6"/><rect x="538.5" y="366.0" width="0.5" height="24.2" fill-opacity="1"/><rect x="538.5" y="391.5" width="0.5" height="28.1" fill-opacity="1"/><rect x="540.0" y="265.3" width="0.5" height="54.9" fill-opacity="1"/><rect x="541.0" y="262.7" width="1.5" height="34.0" fill-opacity="1"/><rect x="541.5" y="387.2" width="0.5" height="17.9" fill-opacity="0.6"/><rect x="541.5" y="406.9" width="0.5" height="12.7" fill-opacity="0.6"/><rect x="542.5" y="262.7" width="0.5" height="26.7" fill-opacity="0.6"/><rect x="542.5" y="290.9" width="0.5" height="43.8" fill-opacity="0.6"/><rect x="542.0" y="380.7" width="1.0" height="38.9" fill-opacity="0.85"/><rect x="543.5" y="360.2" width="0.5" height="8.1" fill-opacity="0.8"/><rect x="543.5" y="370.3" width="0.5" height="49.3" fill-opacity="0.8"/><rect x="546.0" y="262.7" width="0.5" height="34.1" fill-opacity="0.6"/><rect x="546.0" y="361.7" width="0.5" height="27.9" fill-opacity="1"/><rect x="546.0" y="390.9" width="0.5" height="28.7" fill-opacity="1"/><rect x="550.0" y="262.7" width="1.0" height="17.1" fill-opacity="0.5"/><rect x="550.0" y="281.8" width="1.0" height="31.4" fill-opacity="0.5"/><rect x="550.0" y="376.6" width="1.0" height="17.8" fill-opacity="1"/><rect x="550.0" y="395.8" width="1.0" height="19.3" fill-opacity="1"/><rect x="550.0" y="417.0" width="1.0" height="1.8" fill-opacity="1"/><rect x="551.5" y="362.2" width="0.5" height="19.1" fill-opacity="1"/><rect x="551.5" y="382.7" width="0.5" height="10.9" fill-opacity="1"/><rect x="551.5" y="394.8" width="0.5" height="21.1" fill-opacity="1"/><rect x="551.5" y="417.6" width="0.5" height="2.0" fill-opacity="1"/><rect x="557.0" y="262.7" width="0.5" height="5.2" fill-opacity="0.6"/><rect x="558.0" y="262.7" width="0.5" height="29.4" fill-opacity="1"/><rect x="558.0" y="293.2" width="0.5" height="27.3" fill-opacity="1"/><rect x="560.0" y="384.2" width="0.5" height="8.9" fill-opacity="0.6"/><rect x="560.0" y="394.8" width="0.5" height="24.8" fill-opacity="0.6"/><rect x="561.5" y="402.7" width="0.5" height="16.9" fill-opacity="0.6"/><rect x="562.5" y="263.0" width="0.5" height="55.4" fill-opacity="0.8"/><rect x="562.5" y="385.6" width="0.5" height="9.4" fill-opacity="0.6"/><rect x="562.5" y="396.2" width="0.5" height="20.1" fill-opacity="0.6"/><rect x="562.5" y="418.3" width="0.5" height="1.3" fill-opacity="0.6"/><rect x="564.0" y="385.4" width="1.0" height="27.5" fill-opacity="1"/><rect x="564.0" y="414.3" width="1.0" height="5.3" fill-opacity="1"/><rect x="566.0" y="374.5" width="1.0" height="45.1" fill-opacity="1"/><rect x="567.0" y="262.7" width="1.0" height="24.1" fill-opacity="1"/><rect x="567.0" y="287.9" width="1.0" height="27.4" fill-opacity="1"/><rect x="568.5" y="262.7" width="0.5" height="57.3" fill-opacity="0.8"/><rect x="571.0" y="386.5" width="0.5" height="33.1" fill-opacity="1"/><rect x="573.0" y="410.1" width="1.0" height="8.1" fill-opacity="0.5"/><rect x="574.5" y="377.2" width="0.5" height="8.0" fill-opacity="0.8"/><rect x="574.5" y="386.3" width="0.5" height="12.3" fill-opacity="0.8"/><rect x="574.5" y="400.4" width="0.5" height="16.7" fill-opacity="0.8"/><rect x="575.0" y="266.2" width="1.0" height="43.4" fill-opacity="0.5"/><rect x="575.0" y="369.0" width="1.0" height="50.6" fill-opacity="0.5"/><rect x="576.0" y="266.2" width="1.0" height="11.4" fill-opacity="1"/><rect x="577.0" y="262.7" width="0.5" height="8.2" fill-opacity="0.6"/><rect x="577.0" y="272.8" width="0.5" height="24.8" fill-opacity="0.6"/><rect x="577.0" y="386.1" width="1.0" height="33.5" fill-opacity="0.65"/><rect x="578.0" y="262.7" width="1.0" height="11.1" fill-opacity="0.65"/><rect x="582.0" y="262.7" width="0.5" height="40.1" fill-opacity="1"/><rect x="582.0" y="366.5" width="1.0" height="24.5" fill-opacity="1"/><rect x="582.0" y="392.8" width="1.0" height="23.6" fill-opacity="1"/><rect x="583.0" y="267.7" width="0.5" height="46.3" fill-opacity="0.6"/><rect x="584.0" y="262.7" width="0.5" height="67.1" fill-opacity="0.8"/><rect x="584.5" y="357.3" width="0.5" height="62.3" fill-opacity="1"/><rect x="585.5" y="262.7" width="0.5" height="42.3" fill-opacity="1"/><rect x="585.0" y="366.9" width="0.5" height="17.7" fill-opacity="1"/><rect x="585.0" y="386.4" width="0.5" height="32.6" fill-opacity="1"/><rect x="587.5" y="262.7" width="0.5" height="28.1" fill-opacity="0.8"/><rect x="587.5" y="292.9" width="0.5" height="19.1" fill-opacity="0.8"/><rect x="588.5" y="265.8" width="0.5" height="33.3" fill-opacity="0.8"/><rect x="588.0" y="386.2" width="0.5" height="33.4" fill-opacity="1"/><rect x="589.0" y="263.3" width="0.5" height="20.1" fill-opacity="1"/><rect x="589.0" y="285.0" width="0.5" height="6.9" fill-opacity="1"/><rect x="589.0" y="293.3" width="0.5" height="17.2" fill-opacity="1"/><rect x="590.0" y="262.7" width="1.0" height="11.5" fill-opacity="0.85"/><rect x="590.0" y="275.6" width="1.0" height="21.7" fill-opacity="0.85"/><rect x="590.0" y="298.8" width="1.0" height="11.8" fill-opacity="0.85"/><rect x="590.0" y="312.3" width="1.0" height="10.2" fill-opacity="0.85"/><rect x="590.0" y="375.2" width="0.5" height="44.4" fill-opacity="0.8"/><rect x="591.0" y="373.1" width="0.5" height="46.5" fill-opacity="0.6"/><rect x="593.0" y="387.6" width="0.5" height="16.4" fill-opacity="1"/><rect x="593.0" y="405.6" width="0.5" height="14.0" fill-opacity="1"/><rect x="594.0" y="382.9" width="0.5" height="33.4" fill-opacity="0.6"/><rect x="595.5" y="262.7" width="0.5" height="38.2" fill-opacity="0.6"/><rect x="596.0" y="377.1" width="1.0" height="15.6" fill-opacity="1"/><rect x="596.0" y="393.9" width="1.0" height="25.7" fill-opacity="1"/><rect x="597.0" y="262.7" width="2.0" height="53.7" fill-opacity="0.8"/><rect x="598.0" y="262.7" width="1.0" height="19.1" fill-opacity="0.85"/><rect x="598.0" y="283.8" width="1.0" height="39.4" fill-opacity="0.85"/><rect x="598.0" y="366.6" width="0.5" height="49.3" fill-opacity="1"/><rect x="599.0" y="262.7" width="0.5" height="13.2" fill-opacity="0.6"/><rect x="599.0" y="277.2" width="0.5" height="30.0" fill-opacity="0.6"/><rect x="601.0" y="378.7" width="0.5" height="40.9" fill-opacity="1"/><rect x="602.0" y="262.7" width="1.0" height="47.8" fill-opacity="0.4"/><rect x="603.0" y="263.2" width="1.0" height="17.4" fill-opacity="0.4"/><rect x="603.0" y="362.6" width="0.5" height="14.9" fill-opacity="1"/><rect x="603.0" y="379.7" width="0.5" height="23.3" fill-opacity="1"/><rect x="603.0" y="404.0" width="0.5" height="15.6" fill-opacity="1"/><rect x="604.5" y="262.7" width="0.5" height="69.8" fill-opacity="0.6"/><rect x="605.0" y="268.3" width="1.0" height="36.8" fill-opacity="1"/><rect x="606.0" y="262.7" width="1.0" height="29.0" fill-opacity="0.4"/><rect x="606.0" y="293.0" width="1.0" height="23.3" fill-opacity="0.4"/><rect x="606.5" y="385.6" width="0.5" height="14.4" fill-opacity="0.6"/><rect x="606.5" y="401.5" width="0.5" height="15.4" fill-opacity="0.6"/><rect x="608.5" y="262.7" width="0.5" height="24.3" fill-opacity="1"/><rect x="608.5" y="288.6" width="0.5" height="26.1" fill-opacity="1"/><rect x="609.5" y="383.0" width="0.5" height="20.2" fill-opacity="0.6"/><rect x="609.5" y="405.2" width="0.5" height="10.6" fill-opacity="0.6"/><rect x="610.0" y="262.7" width="0.5" height="48.0" fill-opacity="1"/><rect x="611.0" y="262.7" width="1.0" height="43.1" fill-opacity="0.5"/><rect x="611.0" y="362.7" width="1.0" height="56.9" fill-opacity="0.5"/><rect x="612.0" y="265.6" width="0.5" height="18.1" fill-opacity="1"/><rect x="612.0" y="285.6" width="0.5" height="27.2" fill-opacity="1"/><rect x="612.0" y="405.9" width="1.0" height="13.7" fill-opacity="0.4"/><rect x="614.0" y="266.6" width="1.0" height="44.4" fill-opacity="0.65"/><rect x="615.0" y="363.2" width="1.0" height="8.1" fill-opacity="0.4"/><rect x="615.0" y="372.9" width="1.0" height="13.2" fill-opacity="0.4"/><rect x="615.0" y="387.7" width="1.0" height="24.9" fill-opacity="0.4"/><rect x="615.0" y="414.4" width="1.0" height="4.7" fill-opacity="0.4"/></g>
<g fill="#0072bd"><circle cx="46.6" cy="261.3" r="1.25"/><circle cx="51.6" cy="261.2" r="1.28"/><circle cx="51.6" cy="422.8" r="1.24"/><circle cx="54.5" cy="262.0" r="1.16"/><circle cx="54.5" cy="422.4" r="1.46"/><circle cx="59.0" cy="261.3" r="1.10"/><circle cx="62.2" cy="261.6" r="1.13"/><circle cx="62.2" cy="422.3" r="1.33"/><circle cx="66.8" cy="261.5" r="1.34"/><circle cx="68.9" cy="261.7" r="1.32"/><circle cx="68.9" cy="422.2" r="1.18"/><circle cx="73.0" cy="422.6" r="1.39"/><circle cx="77.0" cy="261.6" r="1.06"/><circle cx="77.0" cy="422.4" r="1.08"/><circle cx="81.0" cy="261.8" r="1.05"/><circle cx="81.0" cy="422.7" r="1.07"/><circle cx="85.2" cy="261.9" r="0.91"/><circle cx="88.3" cy="261.5" r="1.15"/><circle cx="88.3" cy="422.2" r="1.31"/><circle cx="91.2" cy="422.4" r="1.14"/><circle cx="96.1" cy="261.7" r="1.32"/><circle cx="96.1" cy="422.7" r="1.17"/><circle cx="98.4" cy="261.6" r="1.34"/><circle cx="98.4" cy="422.5" r="1.46"/><circle cx="101.3" cy="261.6" r="1.11"/><circle cx="106.0" cy="261.6" r="1.11"/><circle cx="106.0" cy="422.5" r="1.55"/><circle cx="108.9" cy="261.8" r="0.93"/><circle cx="111.2" cy="261.8" r="0.91"/><circle cx="111.2" cy="422.2" r="1.28"/><circle cx="113.2" cy="261.4" r="0.94"/><circle cx="113.2" cy="422.3" r="1.31"/><circle cx="115.6" cy="422.3" r="1.14"/><circle cx="120.2" cy="261.8" r="0.95"/><circle cx="123.4" cy="261.9" r="0.95"/><circle cx="123.4" cy="422.7" r="1.35"/><circle cx="127.6" cy="261.6" r="0.99"/><circle cx="127.6" cy="422.3" r="1.35"/><circle cx="130.5" cy="261.7" r="0.94"/><circle cx="133.9" cy="261.3" r="1.15"/><circle cx="133.9" cy="422.7" r="1.22"/><circle cx="137.2" cy="422.9" r="1.54"/><circle cx="142.1" cy="422.8" r="1.37"/><circle cx="144.8" cy="422.7" r="1.33"/><circle cx="147.0" cy="422.3" r="1.37"/><circle cx="149.6" cy="261.8" r="0.95"/><circle cx="149.6" cy="422.2" r="1.29"/><circle cx="153.5" cy="261.2" r="1.00"/><circle cx="156.7" cy="261.5" r="1.25"/><circle cx="160.6" cy="261.7" r="1.16"/><circle cx="160.6" cy="422.9" r="1.58"/><circle cx="165.0" cy="422.8" r="1.14"/><circle cx="173.7" cy="422.7" r="1.29"/><circle cx="176.6" cy="261.8" r="1.32"/><circle cx="180.7" cy="261.3" r="1.18"/><circle cx="180.7" cy="422.4" r="1.06"/><circle cx="183.1" cy="422.8" r="1.20"/><circle cx="187.7" cy="261.4" r="1.10"/><circle cx="187.7" cy="422.4" r="1.23"/><circle cx="189.7" cy="422.1" r="1.58"/><circle cx="192.4" cy="261.2" r="0.95"/><circle cx="196.1" cy="261.4" r="1.04"/><circle cx="201.6" cy="422.7" r="1.49"/><circle cx="205.7" cy="261.9" r="0.98"/><circle cx="205.7" cy="422.3" r="1.24"/><circle cx="208.3" cy="422.7" r="1.38"/><circle cx="215.8" cy="261.9" r="1.09"/><circle cx="215.8" cy="422.4" r="1.42"/><circle cx="220.6" cy="261.7" r="1.37"/><circle cx="223.9" cy="261.8" r="1.06"/><circle cx="223.9" cy="422.6" r="1.49"/><circle cx="226.7" cy="261.9" r="0.96"/><circle cx="226.7" cy="422.5" r="1.20"/><circle cx="231.5" cy="422.7" r="1.38"/><circle cx="234.0" cy="422.2" r="1.27"/><circle cx="236.1" cy="261.5" r="1.38"/><circle cx="236.1" cy="422.8" r="1.47"/><circle cx="239.8" cy="261.4" r="1.15"/><circle cx="239.8" cy="422.6" r="1.30"/><circle cx="242.8" cy="262.0" r="1.00"/><circle cx="242.8" cy="422.1" r="1.06"/><circle cx="245.0" cy="261.9" r="1.25"/><circle cx="249.5" cy="261.7" r="0.91"/><circle cx="249.5" cy="422.3" r="1.37"/><circle cx="251.7" cy="261.5" r="1.15"/><circle cx="251.7" cy="422.2" r="1.44"/><circle cx="256.1" cy="261.3" r="1.20"/><circle cx="261.0" cy="422.8" r="1.40"/><circle cx="268.6" cy="261.7" r="1.09"/><circle cx="268.6" cy="422.7" r="1.37"/><circle cx="271.6" cy="261.9" r="1.18"/><circle cx="275.3" cy="422.5" r="1.33"/><circle cx="279.4" cy="422.5" r="1.38"/><circle cx="285.1" cy="261.9" r="0.93"/><circle cx="287.2" cy="261.8" r="1.02"/><circle cx="287.2" cy="422.3" r="1.42"/><circle cx="290.8" cy="261.5" r="1.19"/><circle cx="295.1" cy="422.5" r="1.23"/><circle cx="298.1" cy="422.5" r="1.46"/><circle cx="302.9" cy="261.4" r="1.15"/><circle cx="305.4" cy="422.5" r="1.56"/><circle cx="307.6" cy="261.3" r="0.97"/><circle cx="307.6" cy="422.7" r="1.35"/><circle cx="310.0" cy="422.2" r="1.49"/><circle cx="314.4" cy="262.0" r="1.31"/><circle cx="314.4" cy="422.1" r="1.52"/><circle cx="318.9" cy="261.8" r="1.29"/><circle cx="318.9" cy="422.8" r="1.59"/><circle cx="324.8" cy="261.7" r="1.32"/><circle cx="324.8" cy="422.3" r="1.15"/><circle cx="328.5" cy="261.9" r="1.34"/><circle cx="328.5" cy="422.7" r="1.40"/><circle cx="333.8" cy="261.4" r="1.29"/><circle cx="333.8" cy="422.8" r="1.10"/><circle cx="336.1" cy="261.9" r="0.98"/><circle cx="336.1" cy="422.7" r="1.05"/><circle cx="340.1" cy="261.4" r="1.23"/><circle cx="343.3" cy="261.2" r="1.07"/><circle cx="343.3" cy="422.7" r="1.43"/><circle cx="347.7" cy="261.8" r="0.96"/><circle cx="347.7" cy="422.3" r="1.17"/><circle cx="351.9" cy="261.5" r="1.04"/><circle cx="355.8" cy="261.5" r="1.36"/><circle cx="359.1" cy="261.9" r="1.03"/><circle cx="359.1" cy="422.2" r="1.30"/><circle cx="363.5" cy="261.5" r="1.40"/><circle cx="363.5" cy="422.4" r="1.50"/><circle cx="368.1" cy="261.3" r="1.22"/><circle cx="372.9" cy="261.4" r="1.16"/><circle cx="372.9" cy="422.5" r="1.28"/><circle cx="381.1" cy="422.8" r="1.38"/><circle cx="385.7" cy="262.0" r="0.91"/><circle cx="390.1" cy="261.9" r="1.01"/><circle cx="393.6" cy="261.4" r="1.30"/><circle cx="395.8" cy="422.4" r="1.25"/><circle cx="403.4" cy="261.3" r="0.93"/><circle cx="403.4" cy="422.6" r="1.27"/><circle cx="408.4" cy="261.5" r="1.11"/><circle cx="408.4" cy="422.9" r="1.35"/><circle cx="412.0" cy="261.4" r="1.06"/><circle cx="412.0" cy="422.5" r="1.59"/><circle cx="415.7" cy="261.2" r="0.98"/><circle cx="415.7" cy="422.7" r="1.53"/><circle cx="418.4" cy="422.5" r="1.32"/><circle cx="420.5" cy="261.7" r="1.24"/><circle cx="420.5" cy="422.8" r="1.49"/><circle cx="423.5" cy="261.6" r="1.23"/><circle cx="423.5" cy="422.1" r="1.29"/><circle cx="425.6" cy="422.3" r="1.27"/><circle cx="428.3" cy="261.3" r="1.31"/><circle cx="428.3" cy="422.7" r="1.21"/><circle cx="432.7" cy="261.7" r="1.10"/><circle cx="432.7" cy="422.3" r="1.58"/><circle cx="436.7" cy="261.7" r="0.95"/><circle cx="436.7" cy="422.3" r="1.51"/><circle cx="438.7" cy="261.9" r="1.29"/><circle cx="441.6" cy="261.8" r="1.05"/><circle cx="444.7" cy="422.8" r="1.59"/><circle cx="447.8" cy="422.8" r="1.02"/><circle cx="451.5" cy="261.8" r="1.06"/><circle cx="451.5" cy="422.7" r="1.33"/><circle cx="455.7" cy="261.2" r="1.29"/><circle cx="455.7" cy="422.5" r="1.00"/><circle cx="458.5" cy="261.8" r="1.22"/><circle cx="458.5" cy="422.7" r="1.40"/><circle cx="461.1" cy="261.7" r="1.26"/><circle cx="461.1" cy="422.3" r="1.21"/><circle cx="463.4" cy="261.8" r="1.19"/><circle cx="463.4" cy="422.7" r="1.07"/><circle cx="467.7" cy="261.3" r="1.03"/><circle cx="467.7" cy="422.3" r="1.53"/><circle cx="472.5" cy="261.8" r="1.25"/><circle cx="472.5" cy="422.3" r="1.57"/><circle cx="477.3" cy="261.5" r="1.06"/><circle cx="477.3" cy="422.4" r="1.54"/><circle cx="479.4" cy="422.1" r="1.54"/><circle cx="482.2" cy="261.3" r="1.08"/><circle cx="482.2" cy="422.2" r="1.15"/><circle cx="486.0" cy="261.4" r="1.16"/><circle cx="490.1" cy="261.9" r="1.30"/><circle cx="490.1" cy="422.5" r="1.20"/><circle cx="492.5" cy="422.2" r="1.56"/><circle cx="497.2" cy="261.8" r="1.02"/><circle cx="497.2" cy="422.8" r="1.21"/><circle cx="500.7" cy="261.4" r="1.21"/><circle cx="500.7" cy="422.9" r="1.11"/><circle cx="504.8" cy="261.4" r="0.96"/><circle cx="504.8" cy="422.5" r="1.10"/><circle cx="509.2" cy="261.7" r="1.33"/><circle cx="509.2" cy="422.3" r="1.46"/><circle cx="512.6" cy="422.4" r="1.57"/><circle cx="518.3" cy="262.0" r="0.96"/><circle cx="522.6" cy="422.2" r="1.58"/><circle cx="527.8" cy="261.5" r="1.28"/><circle cx="527.8" cy="422.8" r="1.23"/><circle cx="532.3" cy="261.8" r="1.05"/><circle cx="532.3" cy="422.1" r="1.29"/><circle cx="534.5" cy="422.4" r="1.58"/><circle cx="539.3" cy="422.7" r="1.44"/><circle cx="543.1" cy="261.9" r="1.12"/><circle cx="543.1" cy="422.8" r="1.17"/><circle cx="545.2" cy="422.1" r="1.08"/><circle cx="550.2" cy="422.2" r="1.54"/><circle cx="554.2" cy="261.3" r="1.11"/><circle cx="556.2" cy="261.2" r="1.40"/><circle cx="556.2" cy="422.9" r="1.50"/><circle cx="560.4" cy="261.8" r="1.15"/><circle cx="560.4" cy="422.2" r="1.31"/><circle cx="564.8" cy="261.9" r="1.11"/><circle cx="564.8" cy="422.3" r="1.28"/><circle cx="568.8" cy="261.9" r="1.16"/><circle cx="568.8" cy="422.9" r="1.13"/><circle cx="570.8" cy="261.5" r="0.96"/><circle cx="570.8" cy="422.1" r="1.55"/><circle cx="574.3" cy="422.7" r="1.46"/><circle cx="577.2" cy="422.5" r="1.36"/><circle cx="581.5" cy="261.5" r="1.31"/><circle cx="586.4" cy="261.4" r="0.95"/><circle cx="590.7" cy="261.8" r="1.16"/><circle cx="590.7" cy="422.8" r="1.39"/><circle cx="594.6" cy="261.6" r="1.28"/><circle cx="594.6" cy="422.2" r="1.26"/><circle cx="597.9" cy="261.6" r="1.08"/><circle cx="597.9" cy="422.4" r="1.22"/><circle cx="602.8" cy="261.2" r="1.26"/><circle cx="602.8" cy="422.5" r="1.36"/><circle cx="605.9" cy="261.2" r="1.34"/><circle cx="608.8" cy="261.5" r="0.93"/><circle cx="613.3" cy="261.4" r="1.25"/></g>
<rect x="44.0" y="263.70000000000005" width="2.2" height="54.799999999999976" fill="#fff"/>
<path d="M45.5,263.1 V318.5 M45.5,294.52 H47" stroke="#555" stroke-width="1.2" fill="none"/>
<path d="M616.6,263.1 V420.2 M45.5,263.1 H616.6 M45.5,420.2 H616.6" stroke="#444" stroke-opacity="0.35" stroke-width="1.2" fill="none"/>
<text x="330.8" y="457.7" text-anchor="middle" class="lb">Feature Index</text>
<text transform="translate(15.0,342.9) rotate(-90)" text-anchor="middle" class="lb">PPV</text>
<text x="321.2" y="240" text-anchor="middle" class="cap">(a) A time series sample.</text>
<text x="321.3" y="493.7" text-anchor="middle" class="cap" style="word-spacing:2.9px">(b) PPV features of time series in (a).</text>
<text x="1" y="530.7" class="cap" style="word-spacing:3.5px">Fig. 1: A time series sample and corresponding PPV features from</text>
<text x="576.9" y="530.7" class="cap" style="letter-spacing:1.8px">10,</text><text x="608.75" y="530.7" class="cap" style="letter-spacing:1.2px">000</text>
</svg>
</body></html>
